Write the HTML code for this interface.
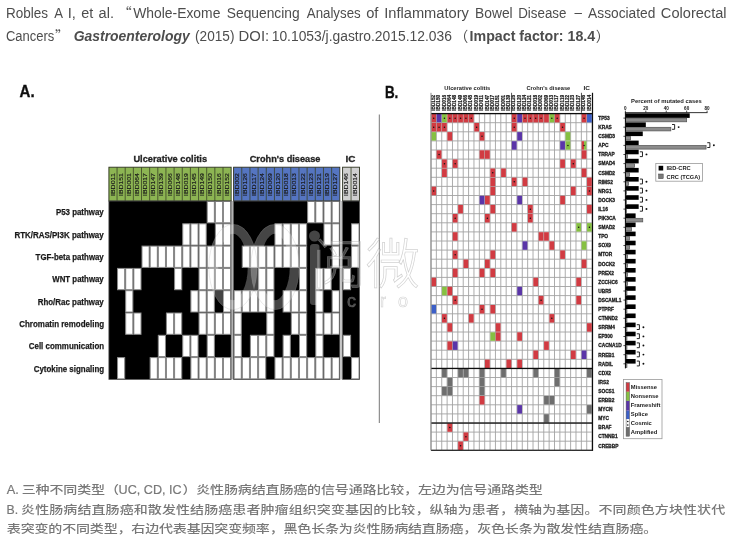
<!DOCTYPE html>
<html><head><meta charset="utf-8"><title>IBD-CRC</title>
<style>
html,body{margin:0;padding:0;background:#fff;}
body{width:730px;height:543px;overflow:hidden;}
svg{display:block;}
text{font-family:"Liberation Sans","Noto Sans CJK SC",sans-serif;}
</style></head><body>
<svg width="730" height="543" viewBox="0 0 730 543">
<defs><filter id="soft" x="0" y="0" width="730" height="543" filterUnits="userSpaceOnUse"><feGaussianBlur stdDeviation="0.45"/></filter></defs>
<rect width="730" height="543" fill="#fff"/>
<text x="6.02" y="18.00" font-size="14" font-weight="normal" font-style="normal" fill="#4d4d4d" textLength="42.12" lengthAdjust="spacingAndGlyphs" >Robles</text>
<text x="54.20" y="18.00" font-size="14" font-weight="normal" font-style="normal" fill="#4d4d4d" textLength="8.76" lengthAdjust="spacingAndGlyphs" >A</text>
<text x="67.68" y="18.00" font-size="14" font-weight="normal" font-style="normal" fill="#4d4d4d" textLength="8.17" lengthAdjust="spacingAndGlyphs" >I,</text>
<text x="81.22" y="18.00" font-size="14" font-weight="normal" font-style="normal" fill="#4d4d4d" textLength="12.03" lengthAdjust="spacingAndGlyphs" >et</text>
<text x="98.62" y="18.00" font-size="14" font-weight="normal" font-style="normal" fill="#4d4d4d" textLength="15.44" lengthAdjust="spacingAndGlyphs" >al.</text>
<text x="117.80" y="18.00" font-size="14" fill="#4d4d4d" style='font-family:"Noto Sans CJK SC", sans-serif'>“</text>
<text x="133.20" y="18.00" font-size="14" font-weight="normal" font-style="normal" fill="#4d4d4d" textLength="87.19" lengthAdjust="spacingAndGlyphs" >Whole-Exome</text>
<text x="226.81" y="18.00" font-size="14" font-weight="normal" font-style="normal" fill="#4d4d4d" textLength="72.84" lengthAdjust="spacingAndGlyphs" >Sequencing</text>
<text x="306.80" y="18.00" font-size="14" font-weight="normal" font-style="normal" fill="#4d4d4d" textLength="53.87" lengthAdjust="spacingAndGlyphs" >Analyses</text>
<text x="366.18" y="18.00" font-size="14" font-weight="normal" font-style="normal" fill="#4d4d4d" textLength="12.26" lengthAdjust="spacingAndGlyphs" >of</text>
<text x="384.18" y="18.00" font-size="14" font-weight="normal" font-style="normal" fill="#4d4d4d" textLength="84.80" lengthAdjust="spacingAndGlyphs" >Inflammatory</text>
<text x="475.10" y="18.00" font-size="14" font-weight="normal" font-style="normal" fill="#4d4d4d" textLength="37.58" lengthAdjust="spacingAndGlyphs" >Bowel</text>
<text x="518.23" y="18.00" font-size="14" font-weight="normal" font-style="normal" fill="#4d4d4d" textLength="48.24" lengthAdjust="spacingAndGlyphs" >Disease</text>
<text x="588.10" y="18.00" font-size="14" font-weight="normal" font-style="normal" fill="#4d4d4d" textLength="67.24" lengthAdjust="spacingAndGlyphs" >Associated</text>
<text x="660.87" y="18.00" font-size="14" font-weight="normal" font-style="normal" fill="#4d4d4d" textLength="65.73" lengthAdjust="spacingAndGlyphs" >Colorectal</text>
<text x="574.40" y="16.70" font-size="14" font-weight="normal" font-style="normal" fill="#4d4d4d" textLength="7.45" lengthAdjust="spacingAndGlyphs" >–</text>
<text x="55.10" y="41.40" font-size="14" fill="#4d4d4d" style='font-family:"Noto Sans CJK SC", sans-serif'>”</text>
<text x="454.20" y="41.40" font-size="14" fill="#4d4d4d" style='font-family:"Noto Sans CJK SC", sans-serif'>（</text>
<text x="595.70" y="41.40" font-size="14" fill="#4d4d4d" style='font-family:"Noto Sans CJK SC", sans-serif'>）</text>
<text x="5.95" y="41.40" font-size="14" font-weight="normal" font-style="normal" fill="#4d4d4d" textLength="48.38" lengthAdjust="spacingAndGlyphs" >Cancers</text>
<text x="73.70" y="41.40" font-size="14" font-weight="bold" font-style="italic" fill="#4d4d4d" textLength="116.06" lengthAdjust="spacingAndGlyphs" >Gastroenterology</text>
<text x="195.08" y="41.40" font-size="14" font-weight="normal" font-style="normal" fill="#4d4d4d" textLength="39.34" lengthAdjust="spacingAndGlyphs" >(2015)</text>
<text x="238.61" y="41.40" font-size="14" font-weight="normal" font-style="normal" fill="#4d4d4d" textLength="30.56" lengthAdjust="spacingAndGlyphs" >DOI:</text>
<text x="271.73" y="41.40" font-size="14" font-weight="normal" font-style="normal" fill="#4d4d4d" textLength="180.16" lengthAdjust="spacingAndGlyphs" >10.1053/j.gastro.2015.12.036</text>
<text x="469.55" y="41.40" font-size="14" font-weight="bold" font-style="normal" fill="#4d4d4d" textLength="125.64" lengthAdjust="spacingAndGlyphs" >Impact factor: 18.4</text>
<g filter="url(#soft)">
<text x="19.60" y="96.90" font-size="16.4" font-weight="bold" font-style="normal" fill="#111" textLength="15.05" lengthAdjust="spacingAndGlyphs" stroke="#111" stroke-width="0.35">A.</text>
<text x="384.89" y="97.50" font-size="16.4" font-weight="bold" font-style="normal" fill="#111" textLength="13.45" lengthAdjust="spacingAndGlyphs" stroke="#111" stroke-width="0.35">B.</text>
<rect x="378.8" y="114.5" width="1" height="308.5" fill="#777"/>
<rect x="108.90" y="167.2" width="122.25" height="33.80" fill="#8db553" stroke="#2e3320" stroke-width="0.9"/>
<line x1="117.05" y1="167.2" x2="117.05" y2="201.0" stroke="#3a4226" stroke-width="0.8"/>
<line x1="125.20" y1="167.2" x2="125.20" y2="201.0" stroke="#3a4226" stroke-width="0.8"/>
<line x1="133.35" y1="167.2" x2="133.35" y2="201.0" stroke="#3a4226" stroke-width="0.8"/>
<line x1="141.50" y1="167.2" x2="141.50" y2="201.0" stroke="#3a4226" stroke-width="0.8"/>
<line x1="149.65" y1="167.2" x2="149.65" y2="201.0" stroke="#3a4226" stroke-width="0.8"/>
<line x1="157.80" y1="167.2" x2="157.80" y2="201.0" stroke="#3a4226" stroke-width="0.8"/>
<line x1="165.95" y1="167.2" x2="165.95" y2="201.0" stroke="#3a4226" stroke-width="0.8"/>
<line x1="174.10" y1="167.2" x2="174.10" y2="201.0" stroke="#3a4226" stroke-width="0.8"/>
<line x1="182.25" y1="167.2" x2="182.25" y2="201.0" stroke="#3a4226" stroke-width="0.8"/>
<line x1="190.40" y1="167.2" x2="190.40" y2="201.0" stroke="#3a4226" stroke-width="0.8"/>
<line x1="198.55" y1="167.2" x2="198.55" y2="201.0" stroke="#3a4226" stroke-width="0.8"/>
<line x1="206.70" y1="167.2" x2="206.70" y2="201.0" stroke="#3a4226" stroke-width="0.8"/>
<line x1="214.85" y1="167.2" x2="214.85" y2="201.0" stroke="#3a4226" stroke-width="0.8"/>
<line x1="223.00" y1="167.2" x2="223.00" y2="201.0" stroke="#3a4226" stroke-width="0.8"/>
<text transform="translate(114.58,196.00) rotate(-90)" x="0" y="0" font-size="4.9" font-weight="normal" fill="#1a1a1a" stroke="#1a1a1a" stroke-width="0.15" textLength="22.8" lengthAdjust="spacingAndGlyphs">IBD011</text>
<text transform="translate(122.72,196.00) rotate(-90)" x="0" y="0" font-size="4.9" font-weight="normal" fill="#1a1a1a" stroke="#1a1a1a" stroke-width="0.15" textLength="22.8" lengthAdjust="spacingAndGlyphs">IBD151</text>
<text transform="translate(130.88,196.00) rotate(-90)" x="0" y="0" font-size="4.9" font-weight="normal" fill="#1a1a1a" stroke="#1a1a1a" stroke-width="0.15" textLength="22.8" lengthAdjust="spacingAndGlyphs">IBD001</text>
<text transform="translate(139.03,196.00) rotate(-90)" x="0" y="0" font-size="4.9" font-weight="normal" fill="#1a1a1a" stroke="#1a1a1a" stroke-width="0.15" textLength="22.8" lengthAdjust="spacingAndGlyphs">IBD064</text>
<text transform="translate(147.18,196.00) rotate(-90)" x="0" y="0" font-size="4.9" font-weight="normal" fill="#1a1a1a" stroke="#1a1a1a" stroke-width="0.15" textLength="22.8" lengthAdjust="spacingAndGlyphs">IBD017</text>
<text transform="translate(155.33,196.00) rotate(-90)" x="0" y="0" font-size="4.9" font-weight="normal" fill="#1a1a1a" stroke="#1a1a1a" stroke-width="0.15" textLength="22.8" lengthAdjust="spacingAndGlyphs">IBD147</text>
<text transform="translate(163.47,196.00) rotate(-90)" x="0" y="0" font-size="4.9" font-weight="normal" fill="#1a1a1a" stroke="#1a1a1a" stroke-width="0.15" textLength="22.8" lengthAdjust="spacingAndGlyphs">IBD139</text>
<text transform="translate(171.62,196.00) rotate(-90)" x="0" y="0" font-size="4.9" font-weight="normal" fill="#1a1a1a" stroke="#1a1a1a" stroke-width="0.15" textLength="22.8" lengthAdjust="spacingAndGlyphs">IBD066</text>
<text transform="translate(179.78,196.00) rotate(-90)" x="0" y="0" font-size="4.9" font-weight="normal" fill="#1a1a1a" stroke="#1a1a1a" stroke-width="0.15" textLength="22.8" lengthAdjust="spacingAndGlyphs">IBD148</text>
<text transform="translate(187.92,196.00) rotate(-90)" x="0" y="0" font-size="4.9" font-weight="normal" fill="#1a1a1a" stroke="#1a1a1a" stroke-width="0.15" textLength="22.8" lengthAdjust="spacingAndGlyphs">IBD019</text>
<text transform="translate(196.08,196.00) rotate(-90)" x="0" y="0" font-size="4.9" font-weight="normal" fill="#1a1a1a" stroke="#1a1a1a" stroke-width="0.15" textLength="22.8" lengthAdjust="spacingAndGlyphs">IBD145</text>
<text transform="translate(204.22,196.00) rotate(-90)" x="0" y="0" font-size="4.9" font-weight="normal" fill="#1a1a1a" stroke="#1a1a1a" stroke-width="0.15" textLength="22.8" lengthAdjust="spacingAndGlyphs">IBD149</text>
<text transform="translate(212.38,196.00) rotate(-90)" x="0" y="0" font-size="4.9" font-weight="normal" fill="#1a1a1a" stroke="#1a1a1a" stroke-width="0.15" textLength="22.8" lengthAdjust="spacingAndGlyphs">IBD150</text>
<text transform="translate(220.53,196.00) rotate(-90)" x="0" y="0" font-size="4.9" font-weight="normal" fill="#1a1a1a" stroke="#1a1a1a" stroke-width="0.15" textLength="22.8" lengthAdjust="spacingAndGlyphs">IBD016</text>
<text transform="translate(228.68,196.00) rotate(-90)" x="0" y="0" font-size="4.9" font-weight="normal" fill="#1a1a1a" stroke="#1a1a1a" stroke-width="0.15" textLength="22.8" lengthAdjust="spacingAndGlyphs">IBD152</text>
<rect x="108.90" y="201.0" width="122.25" height="178.40" fill="#000"/>
<rect x="207.20" y="201.50" width="7.15" height="21.30" fill="#fff" stroke="#8a8a8a" stroke-width="1"/>
<rect x="215.35" y="201.50" width="7.15" height="21.30" fill="#fff" stroke="#8a8a8a" stroke-width="1"/>
<rect x="223.50" y="201.50" width="7.15" height="21.30" fill="#fff" stroke="#8a8a8a" stroke-width="1"/>
<rect x="182.75" y="223.80" width="7.15" height="21.30" fill="#fff" stroke="#8a8a8a" stroke-width="1"/>
<rect x="190.90" y="223.80" width="7.15" height="21.30" fill="#fff" stroke="#8a8a8a" stroke-width="1"/>
<rect x="199.05" y="223.80" width="7.15" height="21.30" fill="#fff" stroke="#8a8a8a" stroke-width="1"/>
<rect x="215.35" y="223.80" width="7.15" height="21.30" fill="#fff" stroke="#8a8a8a" stroke-width="1"/>
<rect x="223.50" y="223.80" width="7.15" height="21.30" fill="#fff" stroke="#8a8a8a" stroke-width="1"/>
<rect x="142.00" y="246.10" width="7.15" height="21.30" fill="#fff" stroke="#8a8a8a" stroke-width="1"/>
<rect x="150.15" y="246.10" width="7.15" height="21.30" fill="#fff" stroke="#8a8a8a" stroke-width="1"/>
<rect x="158.30" y="246.10" width="7.15" height="21.30" fill="#fff" stroke="#8a8a8a" stroke-width="1"/>
<rect x="166.45" y="246.10" width="7.15" height="21.30" fill="#fff" stroke="#8a8a8a" stroke-width="1"/>
<rect x="174.60" y="246.10" width="7.15" height="21.30" fill="#fff" stroke="#8a8a8a" stroke-width="1"/>
<rect x="182.75" y="246.10" width="7.15" height="21.30" fill="#fff" stroke="#8a8a8a" stroke-width="1"/>
<rect x="190.90" y="246.10" width="7.15" height="21.30" fill="#fff" stroke="#8a8a8a" stroke-width="1"/>
<rect x="199.05" y="246.10" width="7.15" height="21.30" fill="#fff" stroke="#8a8a8a" stroke-width="1"/>
<rect x="207.20" y="246.10" width="7.15" height="21.30" fill="#fff" stroke="#8a8a8a" stroke-width="1"/>
<rect x="215.35" y="246.10" width="7.15" height="21.30" fill="#fff" stroke="#8a8a8a" stroke-width="1"/>
<rect x="223.50" y="246.10" width="7.15" height="21.30" fill="#fff" stroke="#8a8a8a" stroke-width="1"/>
<rect x="117.55" y="268.40" width="7.15" height="21.30" fill="#fff" stroke="#8a8a8a" stroke-width="1"/>
<rect x="125.70" y="268.40" width="7.15" height="21.30" fill="#fff" stroke="#8a8a8a" stroke-width="1"/>
<rect x="133.85" y="268.40" width="7.15" height="21.30" fill="#fff" stroke="#8a8a8a" stroke-width="1"/>
<rect x="174.60" y="268.40" width="7.15" height="21.30" fill="#fff" stroke="#8a8a8a" stroke-width="1"/>
<rect x="199.05" y="268.40" width="7.15" height="21.30" fill="#fff" stroke="#8a8a8a" stroke-width="1"/>
<rect x="207.20" y="268.40" width="7.15" height="21.30" fill="#fff" stroke="#8a8a8a" stroke-width="1"/>
<rect x="215.35" y="268.40" width="7.15" height="21.30" fill="#fff" stroke="#8a8a8a" stroke-width="1"/>
<rect x="223.50" y="268.40" width="7.15" height="21.30" fill="#fff" stroke="#8a8a8a" stroke-width="1"/>
<rect x="125.70" y="290.70" width="7.15" height="21.30" fill="#fff" stroke="#8a8a8a" stroke-width="1"/>
<rect x="190.90" y="290.70" width="7.15" height="21.30" fill="#fff" stroke="#8a8a8a" stroke-width="1"/>
<rect x="199.05" y="290.70" width="7.15" height="21.30" fill="#fff" stroke="#8a8a8a" stroke-width="1"/>
<rect x="207.20" y="290.70" width="7.15" height="21.30" fill="#fff" stroke="#8a8a8a" stroke-width="1"/>
<rect x="223.50" y="290.70" width="7.15" height="21.30" fill="#fff" stroke="#8a8a8a" stroke-width="1"/>
<rect x="125.70" y="313.00" width="7.15" height="21.30" fill="#fff" stroke="#8a8a8a" stroke-width="1"/>
<rect x="133.85" y="313.00" width="7.15" height="21.30" fill="#fff" stroke="#8a8a8a" stroke-width="1"/>
<rect x="166.45" y="313.00" width="7.15" height="21.30" fill="#fff" stroke="#8a8a8a" stroke-width="1"/>
<rect x="174.60" y="313.00" width="7.15" height="21.30" fill="#fff" stroke="#8a8a8a" stroke-width="1"/>
<rect x="199.05" y="313.00" width="7.15" height="21.30" fill="#fff" stroke="#8a8a8a" stroke-width="1"/>
<rect x="207.20" y="313.00" width="7.15" height="21.30" fill="#fff" stroke="#8a8a8a" stroke-width="1"/>
<rect x="215.35" y="313.00" width="7.15" height="21.30" fill="#fff" stroke="#8a8a8a" stroke-width="1"/>
<rect x="223.50" y="313.00" width="7.15" height="21.30" fill="#fff" stroke="#8a8a8a" stroke-width="1"/>
<rect x="158.30" y="335.30" width="7.15" height="21.30" fill="#fff" stroke="#8a8a8a" stroke-width="1"/>
<rect x="182.75" y="335.30" width="7.15" height="21.30" fill="#fff" stroke="#8a8a8a" stroke-width="1"/>
<rect x="190.90" y="335.30" width="7.15" height="21.30" fill="#fff" stroke="#8a8a8a" stroke-width="1"/>
<rect x="207.20" y="335.30" width="7.15" height="21.30" fill="#fff" stroke="#8a8a8a" stroke-width="1"/>
<rect x="117.55" y="357.60" width="7.15" height="21.30" fill="#fff" stroke="#8a8a8a" stroke-width="1"/>
<rect x="150.15" y="357.60" width="7.15" height="21.30" fill="#fff" stroke="#8a8a8a" stroke-width="1"/>
<rect x="158.30" y="357.60" width="7.15" height="21.30" fill="#fff" stroke="#8a8a8a" stroke-width="1"/>
<rect x="166.45" y="357.60" width="7.15" height="21.30" fill="#fff" stroke="#8a8a8a" stroke-width="1"/>
<rect x="174.60" y="357.60" width="7.15" height="21.30" fill="#fff" stroke="#8a8a8a" stroke-width="1"/>
<rect x="190.90" y="357.60" width="7.15" height="21.30" fill="#fff" stroke="#8a8a8a" stroke-width="1"/>
<rect x="199.05" y="357.60" width="7.15" height="21.30" fill="#fff" stroke="#8a8a8a" stroke-width="1"/>
<rect x="207.20" y="357.60" width="7.15" height="21.30" fill="#fff" stroke="#8a8a8a" stroke-width="1"/>
<rect x="215.35" y="357.60" width="7.15" height="21.30" fill="#fff" stroke="#8a8a8a" stroke-width="1"/>
<rect x="223.50" y="357.60" width="7.15" height="21.30" fill="#fff" stroke="#8a8a8a" stroke-width="1"/>
<rect x="108.90" y="201.0" width="122.25" height="178.40" fill="none" stroke="#555" stroke-width="0.8"/>
<rect x="233.60" y="167.2" width="106.21" height="33.80" fill="#5474c1" stroke="#2e3320" stroke-width="0.9"/>
<line x1="241.77" y1="167.2" x2="241.77" y2="201.0" stroke="#3a4226" stroke-width="0.8"/>
<line x1="249.94" y1="167.2" x2="249.94" y2="201.0" stroke="#3a4226" stroke-width="0.8"/>
<line x1="258.11" y1="167.2" x2="258.11" y2="201.0" stroke="#3a4226" stroke-width="0.8"/>
<line x1="266.28" y1="167.2" x2="266.28" y2="201.0" stroke="#3a4226" stroke-width="0.8"/>
<line x1="274.45" y1="167.2" x2="274.45" y2="201.0" stroke="#3a4226" stroke-width="0.8"/>
<line x1="282.62" y1="167.2" x2="282.62" y2="201.0" stroke="#3a4226" stroke-width="0.8"/>
<line x1="290.79" y1="167.2" x2="290.79" y2="201.0" stroke="#3a4226" stroke-width="0.8"/>
<line x1="298.96" y1="167.2" x2="298.96" y2="201.0" stroke="#3a4226" stroke-width="0.8"/>
<line x1="307.13" y1="167.2" x2="307.13" y2="201.0" stroke="#3a4226" stroke-width="0.8"/>
<line x1="315.30" y1="167.2" x2="315.30" y2="201.0" stroke="#3a4226" stroke-width="0.8"/>
<line x1="323.47" y1="167.2" x2="323.47" y2="201.0" stroke="#3a4226" stroke-width="0.8"/>
<line x1="331.64" y1="167.2" x2="331.64" y2="201.0" stroke="#3a4226" stroke-width="0.8"/>
<text transform="translate(239.28,196.00) rotate(-90)" x="0" y="0" font-size="4.9" font-weight="normal" fill="#1a1a1a" stroke="#1a1a1a" stroke-width="0.15" textLength="22.8" lengthAdjust="spacingAndGlyphs">IBD002</text>
<text transform="translate(247.45,196.00) rotate(-90)" x="0" y="0" font-size="4.9" font-weight="normal" fill="#1a1a1a" stroke="#1a1a1a" stroke-width="0.15" textLength="22.8" lengthAdjust="spacingAndGlyphs">IBD126</text>
<text transform="translate(255.62,196.00) rotate(-90)" x="0" y="0" font-size="4.9" font-weight="normal" fill="#1a1a1a" stroke="#1a1a1a" stroke-width="0.15" textLength="22.8" lengthAdjust="spacingAndGlyphs">IBD117</text>
<text transform="translate(263.80,196.00) rotate(-90)" x="0" y="0" font-size="4.9" font-weight="normal" fill="#1a1a1a" stroke="#1a1a1a" stroke-width="0.15" textLength="22.8" lengthAdjust="spacingAndGlyphs">IBD124</text>
<text transform="translate(271.97,196.00) rotate(-90)" x="0" y="0" font-size="4.9" font-weight="normal" fill="#1a1a1a" stroke="#1a1a1a" stroke-width="0.15" textLength="22.8" lengthAdjust="spacingAndGlyphs">IBD069</text>
<text transform="translate(280.13,196.00) rotate(-90)" x="0" y="0" font-size="4.9" font-weight="normal" fill="#1a1a1a" stroke="#1a1a1a" stroke-width="0.15" textLength="22.8" lengthAdjust="spacingAndGlyphs">IBD120</text>
<text transform="translate(288.31,196.00) rotate(-90)" x="0" y="0" font-size="4.9" font-weight="normal" fill="#1a1a1a" stroke="#1a1a1a" stroke-width="0.15" textLength="22.8" lengthAdjust="spacingAndGlyphs">IBD018</text>
<text transform="translate(296.48,196.00) rotate(-90)" x="0" y="0" font-size="4.9" font-weight="normal" fill="#1a1a1a" stroke="#1a1a1a" stroke-width="0.15" textLength="22.8" lengthAdjust="spacingAndGlyphs">IBD013</text>
<text transform="translate(304.64,196.00) rotate(-90)" x="0" y="0" font-size="4.9" font-weight="normal" fill="#1a1a1a" stroke="#1a1a1a" stroke-width="0.15" textLength="22.8" lengthAdjust="spacingAndGlyphs">IBD122</text>
<text transform="translate(312.81,196.00) rotate(-90)" x="0" y="0" font-size="4.9" font-weight="normal" fill="#1a1a1a" stroke="#1a1a1a" stroke-width="0.15" textLength="22.8" lengthAdjust="spacingAndGlyphs">IBD123</text>
<text transform="translate(320.99,196.00) rotate(-90)" x="0" y="0" font-size="4.9" font-weight="normal" fill="#1a1a1a" stroke="#1a1a1a" stroke-width="0.15" textLength="22.8" lengthAdjust="spacingAndGlyphs">IBD121</text>
<text transform="translate(329.16,196.00) rotate(-90)" x="0" y="0" font-size="4.9" font-weight="normal" fill="#1a1a1a" stroke="#1a1a1a" stroke-width="0.15" textLength="22.8" lengthAdjust="spacingAndGlyphs">IBD119</text>
<text transform="translate(337.33,196.00) rotate(-90)" x="0" y="0" font-size="4.9" font-weight="normal" fill="#1a1a1a" stroke="#1a1a1a" stroke-width="0.15" textLength="22.8" lengthAdjust="spacingAndGlyphs">IBD127</text>
<rect x="233.60" y="201.0" width="106.21" height="178.40" fill="#000"/>
<rect x="307.63" y="201.50" width="7.17" height="21.30" fill="#fff" stroke="#8a8a8a" stroke-width="1"/>
<rect x="315.80" y="201.50" width="7.17" height="21.30" fill="#fff" stroke="#8a8a8a" stroke-width="1"/>
<rect x="323.97" y="201.50" width="7.17" height="21.30" fill="#fff" stroke="#8a8a8a" stroke-width="1"/>
<rect x="332.14" y="201.50" width="7.17" height="21.30" fill="#fff" stroke="#8a8a8a" stroke-width="1"/>
<rect x="274.95" y="223.80" width="7.17" height="21.30" fill="#fff" stroke="#8a8a8a" stroke-width="1"/>
<rect x="283.12" y="223.80" width="7.17" height="21.30" fill="#fff" stroke="#8a8a8a" stroke-width="1"/>
<rect x="291.29" y="223.80" width="7.17" height="21.30" fill="#fff" stroke="#8a8a8a" stroke-width="1"/>
<rect x="299.46" y="223.80" width="7.17" height="21.30" fill="#fff" stroke="#8a8a8a" stroke-width="1"/>
<rect x="323.97" y="223.80" width="7.17" height="21.30" fill="#fff" stroke="#8a8a8a" stroke-width="1"/>
<rect x="332.14" y="223.80" width="7.17" height="21.30" fill="#fff" stroke="#8a8a8a" stroke-width="1"/>
<rect x="242.27" y="246.10" width="7.17" height="21.30" fill="#fff" stroke="#8a8a8a" stroke-width="1"/>
<rect x="250.44" y="246.10" width="7.17" height="21.30" fill="#fff" stroke="#8a8a8a" stroke-width="1"/>
<rect x="258.61" y="246.10" width="7.17" height="21.30" fill="#fff" stroke="#8a8a8a" stroke-width="1"/>
<rect x="266.78" y="246.10" width="7.17" height="21.30" fill="#fff" stroke="#8a8a8a" stroke-width="1"/>
<rect x="274.95" y="246.10" width="7.17" height="21.30" fill="#fff" stroke="#8a8a8a" stroke-width="1"/>
<rect x="283.12" y="246.10" width="7.17" height="21.30" fill="#fff" stroke="#8a8a8a" stroke-width="1"/>
<rect x="291.29" y="246.10" width="7.17" height="21.30" fill="#fff" stroke="#8a8a8a" stroke-width="1"/>
<rect x="299.46" y="246.10" width="7.17" height="21.30" fill="#fff" stroke="#8a8a8a" stroke-width="1"/>
<rect x="332.14" y="246.10" width="7.17" height="21.30" fill="#fff" stroke="#8a8a8a" stroke-width="1"/>
<rect x="258.61" y="268.40" width="7.17" height="21.30" fill="#fff" stroke="#8a8a8a" stroke-width="1"/>
<rect x="266.78" y="268.40" width="7.17" height="21.30" fill="#fff" stroke="#8a8a8a" stroke-width="1"/>
<rect x="299.46" y="268.40" width="7.17" height="21.30" fill="#fff" stroke="#8a8a8a" stroke-width="1"/>
<rect x="315.80" y="268.40" width="7.17" height="21.30" fill="#fff" stroke="#8a8a8a" stroke-width="1"/>
<rect x="323.97" y="268.40" width="7.17" height="21.30" fill="#fff" stroke="#8a8a8a" stroke-width="1"/>
<rect x="234.10" y="290.70" width="7.17" height="21.30" fill="#fff" stroke="#8a8a8a" stroke-width="1"/>
<rect x="242.27" y="290.70" width="7.17" height="21.30" fill="#fff" stroke="#8a8a8a" stroke-width="1"/>
<rect x="250.44" y="290.70" width="7.17" height="21.30" fill="#fff" stroke="#8a8a8a" stroke-width="1"/>
<rect x="258.61" y="290.70" width="7.17" height="21.30" fill="#fff" stroke="#8a8a8a" stroke-width="1"/>
<rect x="266.78" y="290.70" width="7.17" height="21.30" fill="#fff" stroke="#8a8a8a" stroke-width="1"/>
<rect x="283.12" y="290.70" width="7.17" height="21.30" fill="#fff" stroke="#8a8a8a" stroke-width="1"/>
<rect x="291.29" y="290.70" width="7.17" height="21.30" fill="#fff" stroke="#8a8a8a" stroke-width="1"/>
<rect x="299.46" y="290.70" width="7.17" height="21.30" fill="#fff" stroke="#8a8a8a" stroke-width="1"/>
<rect x="315.80" y="290.70" width="7.17" height="21.30" fill="#fff" stroke="#8a8a8a" stroke-width="1"/>
<rect x="332.14" y="290.70" width="7.17" height="21.30" fill="#fff" stroke="#8a8a8a" stroke-width="1"/>
<rect x="234.10" y="313.00" width="7.17" height="21.30" fill="#fff" stroke="#8a8a8a" stroke-width="1"/>
<rect x="266.78" y="313.00" width="7.17" height="21.30" fill="#fff" stroke="#8a8a8a" stroke-width="1"/>
<rect x="291.29" y="313.00" width="7.17" height="21.30" fill="#fff" stroke="#8a8a8a" stroke-width="1"/>
<rect x="299.46" y="313.00" width="7.17" height="21.30" fill="#fff" stroke="#8a8a8a" stroke-width="1"/>
<rect x="315.80" y="313.00" width="7.17" height="21.30" fill="#fff" stroke="#8a8a8a" stroke-width="1"/>
<rect x="323.97" y="313.00" width="7.17" height="21.30" fill="#fff" stroke="#8a8a8a" stroke-width="1"/>
<rect x="332.14" y="313.00" width="7.17" height="21.30" fill="#fff" stroke="#8a8a8a" stroke-width="1"/>
<rect x="234.10" y="335.30" width="7.17" height="21.30" fill="#fff" stroke="#8a8a8a" stroke-width="1"/>
<rect x="250.44" y="335.30" width="7.17" height="21.30" fill="#fff" stroke="#8a8a8a" stroke-width="1"/>
<rect x="258.61" y="335.30" width="7.17" height="21.30" fill="#fff" stroke="#8a8a8a" stroke-width="1"/>
<rect x="266.78" y="335.30" width="7.17" height="21.30" fill="#fff" stroke="#8a8a8a" stroke-width="1"/>
<rect x="283.12" y="335.30" width="7.17" height="21.30" fill="#fff" stroke="#8a8a8a" stroke-width="1"/>
<rect x="299.46" y="335.30" width="7.17" height="21.30" fill="#fff" stroke="#8a8a8a" stroke-width="1"/>
<rect x="315.80" y="335.30" width="7.17" height="21.30" fill="#fff" stroke="#8a8a8a" stroke-width="1"/>
<rect x="234.10" y="357.60" width="7.17" height="21.30" fill="#fff" stroke="#8a8a8a" stroke-width="1"/>
<rect x="242.27" y="357.60" width="7.17" height="21.30" fill="#fff" stroke="#8a8a8a" stroke-width="1"/>
<rect x="250.44" y="357.60" width="7.17" height="21.30" fill="#fff" stroke="#8a8a8a" stroke-width="1"/>
<rect x="258.61" y="357.60" width="7.17" height="21.30" fill="#fff" stroke="#8a8a8a" stroke-width="1"/>
<rect x="274.95" y="357.60" width="7.17" height="21.30" fill="#fff" stroke="#8a8a8a" stroke-width="1"/>
<rect x="283.12" y="357.60" width="7.17" height="21.30" fill="#fff" stroke="#8a8a8a" stroke-width="1"/>
<rect x="291.29" y="357.60" width="7.17" height="21.30" fill="#fff" stroke="#8a8a8a" stroke-width="1"/>
<rect x="299.46" y="357.60" width="7.17" height="21.30" fill="#fff" stroke="#8a8a8a" stroke-width="1"/>
<rect x="307.63" y="357.60" width="7.17" height="21.30" fill="#fff" stroke="#8a8a8a" stroke-width="1"/>
<rect x="315.80" y="357.60" width="7.17" height="21.30" fill="#fff" stroke="#8a8a8a" stroke-width="1"/>
<rect x="323.97" y="357.60" width="7.17" height="21.30" fill="#fff" stroke="#8a8a8a" stroke-width="1"/>
<rect x="332.14" y="357.60" width="7.17" height="21.30" fill="#fff" stroke="#8a8a8a" stroke-width="1"/>
<rect x="233.60" y="201.0" width="106.21" height="178.40" fill="none" stroke="#555" stroke-width="0.8"/>
<rect x="342.60" y="167.2" width="16.90" height="33.80" fill="#d0d0d0" stroke="#2e3320" stroke-width="0.9"/>
<line x1="351.05" y1="167.2" x2="351.05" y2="201.0" stroke="#3a4226" stroke-width="0.8"/>
<text transform="translate(348.43,196.00) rotate(-90)" x="0" y="0" font-size="4.9" font-weight="normal" fill="#1a1a1a" stroke="#1a1a1a" stroke-width="0.15" textLength="22.8" lengthAdjust="spacingAndGlyphs">IBD146</text>
<text transform="translate(356.88,196.00) rotate(-90)" x="0" y="0" font-size="4.9" font-weight="normal" fill="#1a1a1a" stroke="#1a1a1a" stroke-width="0.15" textLength="22.8" lengthAdjust="spacingAndGlyphs">IBD014</text>
<rect x="342.60" y="201.0" width="16.90" height="178.40" fill="#000"/>
<rect x="351.55" y="223.80" width="7.45" height="21.30" fill="#fff" stroke="#8a8a8a" stroke-width="1"/>
<rect x="351.55" y="246.10" width="7.45" height="21.30" fill="#fff" stroke="#8a8a8a" stroke-width="1"/>
<rect x="343.10" y="268.40" width="7.45" height="21.30" fill="#fff" stroke="#8a8a8a" stroke-width="1"/>
<rect x="343.10" y="335.30" width="7.45" height="21.30" fill="#fff" stroke="#8a8a8a" stroke-width="1"/>
<rect x="351.55" y="357.60" width="7.45" height="21.30" fill="#fff" stroke="#8a8a8a" stroke-width="1"/>
<rect x="342.60" y="201.0" width="16.90" height="178.40" fill="none" stroke="#555" stroke-width="0.8"/>
<rect x="231.85" y="201.0" width="0.9" height="178.40" fill="#9a9a9a"/>
<rect x="340.70" y="201.0" width="0.9" height="178.40" fill="#9a9a9a"/>
<text x="133.44" y="162.00" font-size="9.5" font-weight="bold" font-style="normal" fill="#222" textLength="73.60" lengthAdjust="spacingAndGlyphs" stroke="#222" stroke-width="0.3">Ulcerative colitis</text>
<text x="249.73" y="162.00" font-size="9.5" font-weight="bold" font-style="normal" fill="#222" textLength="70.69" lengthAdjust="spacingAndGlyphs" stroke="#222" stroke-width="0.3">Crohn's disease</text>
<text x="345.41" y="162.00" font-size="9.5" font-weight="bold" font-style="normal" fill="#222" textLength="9.89" lengthAdjust="spacingAndGlyphs" stroke="#222" stroke-width="0.3">IC</text>
<text x="55.93" y="215.30" font-size="9.0" font-weight="bold" font-style="normal" fill="#1a1a1a" textLength="47.83" lengthAdjust="spacingAndGlyphs" stroke="#1a1a1a" stroke-width="0.25">P53 pathway</text>
<text x="14.52" y="237.65" font-size="9.0" font-weight="bold" font-style="normal" fill="#1a1a1a" textLength="89.21" lengthAdjust="spacingAndGlyphs" stroke="#1a1a1a" stroke-width="0.25">RTK/RAS/PI3K pathway</text>
<text x="35.62" y="260.00" font-size="9.0" font-weight="bold" font-style="normal" fill="#1a1a1a" textLength="68.13" lengthAdjust="spacingAndGlyphs" stroke="#1a1a1a" stroke-width="0.25">TGF-beta pathway</text>
<text x="52.30" y="282.35" font-size="9.0" font-weight="bold" font-style="normal" fill="#1a1a1a" textLength="51.44" lengthAdjust="spacingAndGlyphs" stroke="#1a1a1a" stroke-width="0.25">WNT pathway</text>
<text x="37.72" y="304.70" font-size="9.0" font-weight="bold" font-style="normal" fill="#1a1a1a" textLength="66.01" lengthAdjust="spacingAndGlyphs" stroke="#1a1a1a" stroke-width="0.25">Rho/Rac pathway</text>
<text x="19.28" y="327.05" font-size="9.0" font-weight="bold" font-style="normal" fill="#1a1a1a" textLength="84.87" lengthAdjust="spacingAndGlyphs" stroke="#1a1a1a" stroke-width="0.25">Chromatin remodeling</text>
<text x="28.78" y="349.40" font-size="9.0" font-weight="bold" font-style="normal" fill="#1a1a1a" textLength="75.40" lengthAdjust="spacingAndGlyphs" stroke="#1a1a1a" stroke-width="0.25">Cell communication</text>
<text x="33.68" y="371.75" font-size="9.0" font-weight="bold" font-style="normal" fill="#1a1a1a" textLength="70.49" lengthAdjust="spacingAndGlyphs" stroke="#1a1a1a" stroke-width="0.25">Cytokine signaling</text>
<!--PANELB-->
<rect x="431.00" y="113.60" width="161.10" height="336.70" fill="#fff"/>
<text transform="translate(434.80,110.7) rotate(-90)" x="0" y="0" font-size="4.6" font-weight="bold" fill="#222" stroke="#222" stroke-width="0.2" textLength="15.9" lengthAdjust="spacingAndGlyphs">IBD152</text>
<text transform="translate(440.17,110.7) rotate(-90)" x="0" y="0" font-size="4.6" font-weight="bold" fill="#222" stroke="#222" stroke-width="0.2" textLength="15.9" lengthAdjust="spacingAndGlyphs">IBD150</text>
<text transform="translate(445.54,110.7) rotate(-90)" x="0" y="0" font-size="4.6" font-weight="bold" fill="#222" stroke="#222" stroke-width="0.2" textLength="15.9" lengthAdjust="spacingAndGlyphs">IBD016</text>
<text transform="translate(450.91,110.7) rotate(-90)" x="0" y="0" font-size="4.6" font-weight="bold" fill="#222" stroke="#222" stroke-width="0.2" textLength="15.9" lengthAdjust="spacingAndGlyphs">IBD064</text>
<text transform="translate(456.28,110.7) rotate(-90)" x="0" y="0" font-size="4.6" font-weight="bold" fill="#222" stroke="#222" stroke-width="0.2" textLength="15.9" lengthAdjust="spacingAndGlyphs">IBD148</text>
<text transform="translate(461.65,110.7) rotate(-90)" x="0" y="0" font-size="4.6" font-weight="bold" fill="#222" stroke="#222" stroke-width="0.2" textLength="15.9" lengthAdjust="spacingAndGlyphs">IBD149</text>
<text transform="translate(467.02,110.7) rotate(-90)" x="0" y="0" font-size="4.6" font-weight="bold" fill="#222" stroke="#222" stroke-width="0.2" textLength="15.9" lengthAdjust="spacingAndGlyphs">IBD066</text>
<text transform="translate(472.39,110.7) rotate(-90)" x="0" y="0" font-size="4.6" font-weight="bold" fill="#222" stroke="#222" stroke-width="0.2" textLength="15.9" lengthAdjust="spacingAndGlyphs">IBD145</text>
<text transform="translate(477.76,110.7) rotate(-90)" x="0" y="0" font-size="4.6" font-weight="bold" fill="#222" stroke="#222" stroke-width="0.2" textLength="15.9" lengthAdjust="spacingAndGlyphs">IBD019</text>
<text transform="translate(483.13,110.7) rotate(-90)" x="0" y="0" font-size="4.6" font-weight="bold" fill="#222" stroke="#222" stroke-width="0.2" textLength="15.9" lengthAdjust="spacingAndGlyphs">IBD011</text>
<text transform="translate(488.50,110.7) rotate(-90)" x="0" y="0" font-size="4.6" font-weight="bold" fill="#222" stroke="#222" stroke-width="0.2" textLength="15.9" lengthAdjust="spacingAndGlyphs">IBD147</text>
<text transform="translate(493.87,110.7) rotate(-90)" x="0" y="0" font-size="4.6" font-weight="bold" fill="#222" stroke="#222" stroke-width="0.2" textLength="15.9" lengthAdjust="spacingAndGlyphs">IBD017</text>
<text transform="translate(499.24,110.7) rotate(-90)" x="0" y="0" font-size="4.6" font-weight="bold" fill="#222" stroke="#222" stroke-width="0.2" textLength="15.9" lengthAdjust="spacingAndGlyphs">IBD151</text>
<text transform="translate(504.61,110.7) rotate(-90)" x="0" y="0" font-size="4.6" font-weight="bold" fill="#222" stroke="#222" stroke-width="0.2" textLength="15.9" lengthAdjust="spacingAndGlyphs">IBD001</text>
<text transform="translate(509.98,110.7) rotate(-90)" x="0" y="0" font-size="4.6" font-weight="bold" fill="#222" stroke="#222" stroke-width="0.2" textLength="15.9" lengthAdjust="spacingAndGlyphs">IBD139</text>
<text transform="translate(515.35,110.7) rotate(-90)" x="0" y="0" font-size="4.6" font-weight="bold" fill="#222" stroke="#222" stroke-width="0.2" textLength="15.9" lengthAdjust="spacingAndGlyphs">IBD126</text>
<text transform="translate(520.72,110.7) rotate(-90)" x="0" y="0" font-size="4.6" font-weight="bold" fill="#222" stroke="#222" stroke-width="0.2" textLength="15.9" lengthAdjust="spacingAndGlyphs">IBD120</text>
<text transform="translate(526.09,110.7) rotate(-90)" x="0" y="0" font-size="4.6" font-weight="bold" fill="#222" stroke="#222" stroke-width="0.2" textLength="15.9" lengthAdjust="spacingAndGlyphs">IBD124</text>
<text transform="translate(531.46,110.7) rotate(-90)" x="0" y="0" font-size="4.6" font-weight="bold" fill="#222" stroke="#222" stroke-width="0.2" textLength="15.9" lengthAdjust="spacingAndGlyphs">IBD121</text>
<text transform="translate(536.83,110.7) rotate(-90)" x="0" y="0" font-size="4.6" font-weight="bold" fill="#222" stroke="#222" stroke-width="0.2" textLength="15.9" lengthAdjust="spacingAndGlyphs">IBD018</text>
<text transform="translate(542.20,110.7) rotate(-90)" x="0" y="0" font-size="4.6" font-weight="bold" fill="#222" stroke="#222" stroke-width="0.2" textLength="15.9" lengthAdjust="spacingAndGlyphs">IBD002</text>
<text transform="translate(547.57,110.7) rotate(-90)" x="0" y="0" font-size="4.6" font-weight="bold" fill="#222" stroke="#222" stroke-width="0.2" textLength="15.9" lengthAdjust="spacingAndGlyphs">IBD069</text>
<text transform="translate(552.94,110.7) rotate(-90)" x="0" y="0" font-size="4.6" font-weight="bold" fill="#222" stroke="#222" stroke-width="0.2" textLength="15.9" lengthAdjust="spacingAndGlyphs">IBD013</text>
<text transform="translate(558.31,110.7) rotate(-90)" x="0" y="0" font-size="4.6" font-weight="bold" fill="#222" stroke="#222" stroke-width="0.2" textLength="15.9" lengthAdjust="spacingAndGlyphs">IBD117</text>
<text transform="translate(563.68,110.7) rotate(-90)" x="0" y="0" font-size="4.6" font-weight="bold" fill="#222" stroke="#222" stroke-width="0.2" textLength="15.9" lengthAdjust="spacingAndGlyphs">IBD119</text>
<text transform="translate(569.05,110.7) rotate(-90)" x="0" y="0" font-size="4.6" font-weight="bold" fill="#222" stroke="#222" stroke-width="0.2" textLength="15.9" lengthAdjust="spacingAndGlyphs">IBD122</text>
<text transform="translate(574.42,110.7) rotate(-90)" x="0" y="0" font-size="4.6" font-weight="bold" fill="#222" stroke="#222" stroke-width="0.2" textLength="15.9" lengthAdjust="spacingAndGlyphs">IBD123</text>
<text transform="translate(579.79,110.7) rotate(-90)" x="0" y="0" font-size="4.6" font-weight="bold" fill="#222" stroke="#222" stroke-width="0.2" textLength="15.9" lengthAdjust="spacingAndGlyphs">IBD127</text>
<text transform="translate(585.16,110.7) rotate(-90)" x="0" y="0" font-size="4.6" font-weight="bold" fill="#222" stroke="#222" stroke-width="0.2" textLength="15.9" lengthAdjust="spacingAndGlyphs">IBD146</text>
<text transform="translate(590.53,110.7) rotate(-90)" x="0" y="0" font-size="4.6" font-weight="bold" fill="#222" stroke="#222" stroke-width="0.2" textLength="15.9" lengthAdjust="spacingAndGlyphs">IBD014</text>
<line x1="431.00" y1="113.60" x2="431.00" y2="450.30" stroke="#a3a3a3" stroke-width="0.9"/>
<line x1="436.37" y1="113.60" x2="436.37" y2="450.30" stroke="#a3a3a3" stroke-width="0.9"/>
<line x1="441.74" y1="113.60" x2="441.74" y2="450.30" stroke="#a3a3a3" stroke-width="0.9"/>
<line x1="447.11" y1="113.60" x2="447.11" y2="450.30" stroke="#a3a3a3" stroke-width="0.9"/>
<line x1="452.48" y1="113.60" x2="452.48" y2="450.30" stroke="#a3a3a3" stroke-width="0.9"/>
<line x1="457.85" y1="113.60" x2="457.85" y2="450.30" stroke="#a3a3a3" stroke-width="0.9"/>
<line x1="463.22" y1="113.60" x2="463.22" y2="450.30" stroke="#a3a3a3" stroke-width="0.9"/>
<line x1="468.59" y1="113.60" x2="468.59" y2="450.30" stroke="#a3a3a3" stroke-width="0.9"/>
<line x1="473.96" y1="113.60" x2="473.96" y2="450.30" stroke="#a3a3a3" stroke-width="0.9"/>
<line x1="479.33" y1="113.60" x2="479.33" y2="450.30" stroke="#a3a3a3" stroke-width="0.9"/>
<line x1="484.70" y1="113.60" x2="484.70" y2="450.30" stroke="#a3a3a3" stroke-width="0.9"/>
<line x1="490.07" y1="113.60" x2="490.07" y2="450.30" stroke="#a3a3a3" stroke-width="0.9"/>
<line x1="495.44" y1="113.60" x2="495.44" y2="450.30" stroke="#a3a3a3" stroke-width="0.9"/>
<line x1="500.81" y1="113.60" x2="500.81" y2="450.30" stroke="#a3a3a3" stroke-width="0.9"/>
<line x1="506.18" y1="113.60" x2="506.18" y2="450.30" stroke="#a3a3a3" stroke-width="0.9"/>
<line x1="511.55" y1="113.60" x2="511.55" y2="450.30" stroke="#a3a3a3" stroke-width="0.9"/>
<line x1="516.92" y1="113.60" x2="516.92" y2="450.30" stroke="#a3a3a3" stroke-width="0.9"/>
<line x1="522.29" y1="113.60" x2="522.29" y2="450.30" stroke="#a3a3a3" stroke-width="0.9"/>
<line x1="527.66" y1="113.60" x2="527.66" y2="450.30" stroke="#a3a3a3" stroke-width="0.9"/>
<line x1="533.03" y1="113.60" x2="533.03" y2="450.30" stroke="#a3a3a3" stroke-width="0.9"/>
<line x1="538.40" y1="113.60" x2="538.40" y2="450.30" stroke="#a3a3a3" stroke-width="0.9"/>
<line x1="543.77" y1="113.60" x2="543.77" y2="450.30" stroke="#a3a3a3" stroke-width="0.9"/>
<line x1="549.14" y1="113.60" x2="549.14" y2="450.30" stroke="#a3a3a3" stroke-width="0.9"/>
<line x1="554.51" y1="113.60" x2="554.51" y2="450.30" stroke="#a3a3a3" stroke-width="0.9"/>
<line x1="559.88" y1="113.60" x2="559.88" y2="450.30" stroke="#a3a3a3" stroke-width="0.9"/>
<line x1="565.25" y1="113.60" x2="565.25" y2="450.30" stroke="#a3a3a3" stroke-width="0.9"/>
<line x1="570.62" y1="113.60" x2="570.62" y2="450.30" stroke="#a3a3a3" stroke-width="0.9"/>
<line x1="575.99" y1="113.60" x2="575.99" y2="450.30" stroke="#a3a3a3" stroke-width="0.9"/>
<line x1="581.36" y1="113.60" x2="581.36" y2="450.30" stroke="#a3a3a3" stroke-width="0.9"/>
<line x1="586.73" y1="113.60" x2="586.73" y2="450.30" stroke="#a3a3a3" stroke-width="0.9"/>
<line x1="592.10" y1="113.60" x2="592.10" y2="450.30" stroke="#a3a3a3" stroke-width="0.9"/>
<line x1="431.00" y1="113.60" x2="592.10" y2="113.60" stroke="#a3a3a3" stroke-width="0.9"/>
<line x1="431.00" y1="122.70" x2="592.10" y2="122.70" stroke="#a3a3a3" stroke-width="0.9"/>
<line x1="431.00" y1="131.80" x2="592.10" y2="131.80" stroke="#a3a3a3" stroke-width="0.9"/>
<line x1="431.00" y1="140.90" x2="592.10" y2="140.90" stroke="#a3a3a3" stroke-width="0.9"/>
<line x1="431.00" y1="150.00" x2="592.10" y2="150.00" stroke="#a3a3a3" stroke-width="0.9"/>
<line x1="431.00" y1="159.10" x2="592.10" y2="159.10" stroke="#a3a3a3" stroke-width="0.9"/>
<line x1="431.00" y1="168.20" x2="592.10" y2="168.20" stroke="#a3a3a3" stroke-width="0.9"/>
<line x1="431.00" y1="177.30" x2="592.10" y2="177.30" stroke="#a3a3a3" stroke-width="0.9"/>
<line x1="431.00" y1="186.40" x2="592.10" y2="186.40" stroke="#a3a3a3" stroke-width="0.9"/>
<line x1="431.00" y1="195.50" x2="592.10" y2="195.50" stroke="#a3a3a3" stroke-width="0.9"/>
<line x1="431.00" y1="204.60" x2="592.10" y2="204.60" stroke="#a3a3a3" stroke-width="0.9"/>
<line x1="431.00" y1="213.70" x2="592.10" y2="213.70" stroke="#a3a3a3" stroke-width="0.9"/>
<line x1="431.00" y1="222.80" x2="592.10" y2="222.80" stroke="#a3a3a3" stroke-width="0.9"/>
<line x1="431.00" y1="231.90" x2="592.10" y2="231.90" stroke="#a3a3a3" stroke-width="0.9"/>
<line x1="431.00" y1="241.00" x2="592.10" y2="241.00" stroke="#a3a3a3" stroke-width="0.9"/>
<line x1="431.00" y1="250.10" x2="592.10" y2="250.10" stroke="#a3a3a3" stroke-width="0.9"/>
<line x1="431.00" y1="259.20" x2="592.10" y2="259.20" stroke="#a3a3a3" stroke-width="0.9"/>
<line x1="431.00" y1="268.30" x2="592.10" y2="268.30" stroke="#a3a3a3" stroke-width="0.9"/>
<line x1="431.00" y1="277.40" x2="592.10" y2="277.40" stroke="#a3a3a3" stroke-width="0.9"/>
<line x1="431.00" y1="286.50" x2="592.10" y2="286.50" stroke="#a3a3a3" stroke-width="0.9"/>
<line x1="431.00" y1="295.60" x2="592.10" y2="295.60" stroke="#a3a3a3" stroke-width="0.9"/>
<line x1="431.00" y1="304.70" x2="592.10" y2="304.70" stroke="#a3a3a3" stroke-width="0.9"/>
<line x1="431.00" y1="313.80" x2="592.10" y2="313.80" stroke="#a3a3a3" stroke-width="0.9"/>
<line x1="431.00" y1="322.90" x2="592.10" y2="322.90" stroke="#a3a3a3" stroke-width="0.9"/>
<line x1="431.00" y1="332.00" x2="592.10" y2="332.00" stroke="#a3a3a3" stroke-width="0.9"/>
<line x1="431.00" y1="341.10" x2="592.10" y2="341.10" stroke="#a3a3a3" stroke-width="0.9"/>
<line x1="431.00" y1="350.20" x2="592.10" y2="350.20" stroke="#a3a3a3" stroke-width="0.9"/>
<line x1="431.00" y1="359.30" x2="592.10" y2="359.30" stroke="#a3a3a3" stroke-width="0.9"/>
<line x1="431.00" y1="368.40" x2="592.10" y2="368.40" stroke="#a3a3a3" stroke-width="0.9"/>
<line x1="431.00" y1="377.50" x2="592.10" y2="377.50" stroke="#a3a3a3" stroke-width="0.9"/>
<line x1="431.00" y1="386.60" x2="592.10" y2="386.60" stroke="#a3a3a3" stroke-width="0.9"/>
<line x1="431.00" y1="395.70" x2="592.10" y2="395.70" stroke="#a3a3a3" stroke-width="0.9"/>
<line x1="431.00" y1="404.80" x2="592.10" y2="404.80" stroke="#a3a3a3" stroke-width="0.9"/>
<line x1="431.00" y1="413.90" x2="592.10" y2="413.90" stroke="#a3a3a3" stroke-width="0.9"/>
<line x1="431.00" y1="423.00" x2="592.10" y2="423.00" stroke="#a3a3a3" stroke-width="0.9"/>
<line x1="431.00" y1="432.10" x2="592.10" y2="432.10" stroke="#a3a3a3" stroke-width="0.9"/>
<line x1="431.00" y1="441.20" x2="592.10" y2="441.20" stroke="#a3a3a3" stroke-width="0.9"/>
<line x1="431.00" y1="450.30" x2="592.10" y2="450.30" stroke="#a3a3a3" stroke-width="0.9"/>
<rect x="431.30" y="113.90" width="4.77" height="8.50" fill="#d13b43"/>
<circle cx="433.69" cy="118.15" r="0.75" fill="#111"/>
<rect x="436.67" y="113.90" width="4.77" height="8.50" fill="#5a36a8"/>
<rect x="442.04" y="113.90" width="4.77" height="8.50" fill="#86c043"/>
<circle cx="444.43" cy="118.15" r="0.75" fill="#111"/>
<rect x="447.41" y="113.90" width="4.77" height="8.50" fill="#d13b43"/>
<circle cx="449.80" cy="118.15" r="0.75" fill="#111"/>
<rect x="452.78" y="113.90" width="4.77" height="8.50" fill="#d13b43"/>
<circle cx="455.17" cy="118.15" r="0.75" fill="#111"/>
<rect x="458.15" y="113.90" width="4.77" height="8.50" fill="#d13b43"/>
<circle cx="460.54" cy="118.15" r="0.75" fill="#111"/>
<rect x="463.52" y="113.90" width="4.77" height="8.50" fill="#d13b43"/>
<circle cx="465.91" cy="118.15" r="0.75" fill="#111"/>
<rect x="468.89" y="113.90" width="4.77" height="8.50" fill="#d13b43"/>
<circle cx="471.28" cy="118.15" r="0.75" fill="#111"/>
<rect x="511.85" y="113.90" width="4.77" height="8.50" fill="#d13b43"/>
<circle cx="514.24" cy="118.15" r="0.75" fill="#111"/>
<rect x="517.22" y="113.90" width="4.77" height="8.50" fill="#5a36a8"/>
<rect x="522.59" y="113.90" width="4.77" height="8.50" fill="#d13b43"/>
<circle cx="524.97" cy="118.15" r="0.75" fill="#111"/>
<rect x="527.96" y="113.90" width="4.77" height="8.50" fill="#d13b43"/>
<circle cx="530.34" cy="118.15" r="0.75" fill="#111"/>
<rect x="533.33" y="113.90" width="4.77" height="8.50" fill="#d13b43"/>
<circle cx="535.71" cy="118.15" r="0.75" fill="#111"/>
<rect x="538.70" y="113.90" width="4.77" height="8.50" fill="#d13b43"/>
<circle cx="541.08" cy="118.15" r="0.75" fill="#111"/>
<rect x="544.07" y="113.90" width="4.77" height="8.50" fill="#d13b43"/>
<rect x="549.44" y="113.90" width="4.77" height="8.50" fill="#86c043"/>
<circle cx="551.82" cy="118.15" r="0.75" fill="#111"/>
<rect x="554.81" y="113.90" width="4.77" height="8.50" fill="#d13b43"/>
<circle cx="557.19" cy="118.15" r="0.75" fill="#111"/>
<rect x="581.66" y="113.90" width="4.77" height="8.50" fill="#d13b43"/>
<circle cx="584.04" cy="118.15" r="0.75" fill="#111"/>
<rect x="587.03" y="113.90" width="4.77" height="8.50" fill="#3c60c8"/>
<rect x="431.30" y="123.00" width="4.77" height="8.50" fill="#d13b43"/>
<circle cx="433.69" cy="127.25" r="0.75" fill="#111"/>
<rect x="436.67" y="123.00" width="4.77" height="8.50" fill="#d13b43"/>
<circle cx="439.06" cy="127.25" r="0.75" fill="#111"/>
<rect x="442.04" y="123.00" width="4.77" height="8.50" fill="#d13b43"/>
<circle cx="444.43" cy="127.25" r="0.75" fill="#111"/>
<rect x="474.26" y="123.00" width="4.77" height="8.50" fill="#d13b43"/>
<circle cx="476.64" cy="127.25" r="0.75" fill="#111"/>
<rect x="511.85" y="123.00" width="4.77" height="8.50" fill="#d13b43"/>
<circle cx="514.24" cy="127.25" r="0.75" fill="#111"/>
<rect x="560.18" y="123.00" width="4.77" height="8.50" fill="#d13b43"/>
<circle cx="562.56" cy="127.25" r="0.75" fill="#111"/>
<rect x="431.30" y="132.10" width="4.77" height="8.50" fill="#86c043"/>
<rect x="447.41" y="132.10" width="4.77" height="8.50" fill="#d13b43"/>
<rect x="479.63" y="132.10" width="4.77" height="8.50" fill="#d13b43"/>
<circle cx="482.01" cy="136.35" r="0.75" fill="#111"/>
<rect x="517.22" y="132.10" width="4.77" height="8.50" fill="#5a36a8"/>
<rect x="565.55" y="132.10" width="4.77" height="8.50" fill="#86c043"/>
<rect x="511.85" y="141.20" width="4.77" height="8.50" fill="#5a36a8"/>
<rect x="560.18" y="141.20" width="4.77" height="8.50" fill="#5a36a8"/>
<rect x="565.55" y="141.20" width="4.77" height="8.50" fill="#86c043"/>
<circle cx="567.93" cy="145.45" r="0.75" fill="#111"/>
<rect x="581.66" y="141.20" width="2.39" height="8.50" fill="#d13b43"/>
<rect x="584.04" y="141.20" width="2.39" height="8.50" fill="#86c043"/>
<circle cx="584.04" cy="145.45" r="0.75" fill="#111"/>
<rect x="436.67" y="150.30" width="4.77" height="8.50" fill="#d13b43"/>
<circle cx="439.06" cy="154.55" r="0.75" fill="#111"/>
<rect x="479.63" y="150.30" width="4.77" height="8.50" fill="#d13b43"/>
<rect x="485.00" y="150.30" width="4.77" height="8.50" fill="#d13b43"/>
<rect x="581.66" y="150.30" width="4.77" height="8.50" fill="#d13b43"/>
<rect x="442.04" y="159.40" width="4.77" height="8.50" fill="#d13b43"/>
<circle cx="444.43" cy="163.65" r="0.75" fill="#111"/>
<rect x="452.78" y="159.40" width="4.77" height="8.50" fill="#d13b43"/>
<circle cx="455.17" cy="163.65" r="0.75" fill="#111"/>
<rect x="560.18" y="159.40" width="4.77" height="8.50" fill="#d13b43"/>
<rect x="570.92" y="159.40" width="4.77" height="8.50" fill="#d13b43"/>
<circle cx="573.30" cy="163.65" r="0.75" fill="#111"/>
<rect x="442.04" y="168.50" width="4.77" height="8.50" fill="#d13b43"/>
<rect x="490.37" y="168.50" width="4.77" height="8.50" fill="#d13b43"/>
<circle cx="492.75" cy="172.75" r="0.75" fill="#111"/>
<rect x="501.11" y="168.50" width="4.77" height="8.50" fill="#d13b43"/>
<rect x="581.66" y="168.50" width="4.77" height="8.50" fill="#d13b43"/>
<rect x="490.37" y="177.60" width="4.77" height="8.50" fill="#d13b43"/>
<rect x="511.85" y="177.60" width="4.77" height="8.50" fill="#d13b43"/>
<circle cx="514.24" cy="181.85" r="0.75" fill="#111"/>
<rect x="522.59" y="177.60" width="4.77" height="8.50" fill="#d13b43"/>
<rect x="587.03" y="177.60" width="4.77" height="8.50" fill="#d13b43"/>
<rect x="431.30" y="186.70" width="4.77" height="8.50" fill="#d13b43"/>
<circle cx="433.69" cy="190.95" r="0.75" fill="#111"/>
<rect x="490.37" y="186.70" width="4.77" height="8.50" fill="#d13b43"/>
<rect x="570.92" y="186.70" width="4.77" height="8.50" fill="#d13b43"/>
<rect x="587.03" y="186.70" width="4.77" height="8.50" fill="#d13b43"/>
<circle cx="589.41" cy="190.95" r="0.75" fill="#111"/>
<rect x="479.63" y="195.80" width="4.77" height="8.50" fill="#5a36a8"/>
<rect x="485.00" y="195.80" width="4.77" height="8.50" fill="#d13b43"/>
<rect x="517.22" y="195.80" width="4.77" height="8.50" fill="#5a36a8"/>
<rect x="560.18" y="195.80" width="4.77" height="8.50" fill="#d13b43"/>
<rect x="458.15" y="204.90" width="4.77" height="8.50" fill="#d13b43"/>
<rect x="490.37" y="204.90" width="4.77" height="8.50" fill="#d13b43"/>
<rect x="527.96" y="204.90" width="4.77" height="8.50" fill="#d13b43"/>
<circle cx="530.34" cy="209.15" r="0.75" fill="#111"/>
<rect x="587.03" y="204.90" width="4.77" height="8.50" fill="#d13b43"/>
<rect x="452.78" y="214.00" width="4.77" height="8.50" fill="#d13b43"/>
<circle cx="455.17" cy="218.25" r="0.75" fill="#111"/>
<rect x="485.00" y="214.00" width="4.77" height="8.50" fill="#d13b43"/>
<circle cx="487.38" cy="218.25" r="0.75" fill="#111"/>
<rect x="527.96" y="214.00" width="4.77" height="8.50" fill="#d13b43"/>
<circle cx="530.34" cy="218.25" r="0.75" fill="#111"/>
<rect x="511.85" y="223.10" width="4.77" height="8.50" fill="#d13b43"/>
<rect x="576.29" y="223.10" width="4.77" height="8.50" fill="#86c043"/>
<circle cx="578.67" cy="227.35" r="0.75" fill="#111"/>
<rect x="587.03" y="223.10" width="4.77" height="8.50" fill="#86c043"/>
<circle cx="589.41" cy="227.35" r="0.75" fill="#111"/>
<rect x="452.78" y="232.20" width="4.77" height="8.50" fill="#d13b43"/>
<rect x="538.70" y="232.20" width="4.77" height="8.50" fill="#d13b43"/>
<rect x="544.07" y="232.20" width="4.77" height="8.50" fill="#d13b43"/>
<rect x="522.59" y="241.30" width="4.77" height="8.50" fill="#5a36a8"/>
<rect x="549.44" y="241.30" width="4.77" height="8.50" fill="#d13b43"/>
<rect x="581.66" y="241.30" width="4.77" height="8.50" fill="#86c043"/>
<rect x="452.78" y="250.40" width="4.77" height="8.50" fill="#d13b43"/>
<circle cx="455.17" cy="254.65" r="0.75" fill="#111"/>
<rect x="490.37" y="250.40" width="4.77" height="8.50" fill="#d13b43"/>
<rect x="560.18" y="250.40" width="4.77" height="8.50" fill="#d13b43"/>
<rect x="463.52" y="259.50" width="4.77" height="8.50" fill="#d13b43"/>
<rect x="485.00" y="259.50" width="4.77" height="8.50" fill="#d13b43"/>
<rect x="581.66" y="259.50" width="4.77" height="8.50" fill="#d13b43"/>
<rect x="452.78" y="268.60" width="4.77" height="8.50" fill="#d13b43"/>
<rect x="479.63" y="268.60" width="4.77" height="8.50" fill="#d13b43"/>
<rect x="490.37" y="268.60" width="4.77" height="8.50" fill="#d13b43"/>
<rect x="431.30" y="277.70" width="4.77" height="8.50" fill="#d13b43"/>
<rect x="533.33" y="277.70" width="4.77" height="8.50" fill="#d13b43"/>
<rect x="576.29" y="277.70" width="4.77" height="8.50" fill="#d13b43"/>
<rect x="442.04" y="286.80" width="4.77" height="8.50" fill="#86c043"/>
<rect x="447.41" y="286.80" width="4.77" height="8.50" fill="#d13b43"/>
<rect x="517.22" y="286.80" width="4.77" height="8.50" fill="#5a36a8"/>
<rect x="452.78" y="295.90" width="4.77" height="8.50" fill="#d13b43"/>
<circle cx="455.17" cy="300.15" r="0.75" fill="#111"/>
<rect x="538.70" y="295.90" width="4.77" height="8.50" fill="#d13b43"/>
<circle cx="541.08" cy="300.15" r="0.75" fill="#111"/>
<rect x="576.29" y="295.90" width="4.77" height="8.50" fill="#d13b43"/>
<rect x="431.30" y="305.00" width="4.77" height="8.50" fill="#3c60c8"/>
<rect x="479.63" y="305.00" width="4.77" height="8.50" fill="#d13b43"/>
<circle cx="482.01" cy="309.25" r="0.75" fill="#111"/>
<rect x="490.37" y="305.00" width="4.77" height="8.50" fill="#d13b43"/>
<rect x="442.04" y="314.10" width="4.77" height="8.50" fill="#d13b43"/>
<circle cx="444.43" cy="318.35" r="0.75" fill="#111"/>
<rect x="468.89" y="314.10" width="4.77" height="8.50" fill="#d13b43"/>
<rect x="549.44" y="314.10" width="4.77" height="8.50" fill="#d13b43"/>
<circle cx="551.82" cy="318.35" r="0.75" fill="#111"/>
<rect x="447.41" y="323.20" width="4.77" height="8.50" fill="#d13b43"/>
<rect x="495.74" y="323.20" width="4.77" height="8.50" fill="#d13b43"/>
<rect x="587.03" y="323.20" width="4.77" height="8.50" fill="#d13b43"/>
<rect x="490.37" y="332.30" width="4.77" height="8.50" fill="#86c043"/>
<rect x="495.74" y="332.30" width="4.77" height="8.50" fill="#d13b43"/>
<rect x="517.22" y="332.30" width="4.77" height="8.50" fill="#d13b43"/>
<rect x="447.41" y="341.40" width="4.77" height="8.50" fill="#d13b43"/>
<rect x="452.78" y="341.40" width="4.77" height="8.50" fill="#5a36a8"/>
<rect x="544.07" y="341.40" width="4.77" height="8.50" fill="#d13b43"/>
<rect x="533.33" y="350.50" width="4.77" height="8.50" fill="#d13b43"/>
<rect x="570.92" y="350.50" width="4.77" height="8.50" fill="#d13b43"/>
<rect x="581.66" y="350.50" width="4.77" height="8.50" fill="#5a36a8"/>
<rect x="485.00" y="359.60" width="4.77" height="8.50" fill="#d13b43"/>
<rect x="506.48" y="359.60" width="4.77" height="8.50" fill="#d13b43"/>
<rect x="517.22" y="359.60" width="4.77" height="8.50" fill="#d13b43"/>
<rect x="442.04" y="368.70" width="4.77" height="8.50" fill="#6e6e6e"/>
<rect x="458.15" y="368.70" width="4.77" height="8.50" fill="#6e6e6e"/>
<rect x="463.52" y="368.70" width="4.77" height="8.50" fill="#6e6e6e"/>
<rect x="479.63" y="368.70" width="4.77" height="8.50" fill="#6e6e6e"/>
<rect x="501.11" y="368.70" width="4.77" height="8.50" fill="#6e6e6e"/>
<rect x="533.33" y="368.70" width="4.77" height="8.50" fill="#6e6e6e"/>
<rect x="554.81" y="368.70" width="4.77" height="8.50" fill="#6e6e6e"/>
<rect x="587.03" y="368.70" width="4.77" height="8.50" fill="#6e6e6e"/>
<rect x="447.41" y="377.80" width="4.77" height="8.50" fill="#6e6e6e"/>
<rect x="479.63" y="377.80" width="4.77" height="8.50" fill="#6e6e6e"/>
<rect x="554.81" y="377.80" width="4.77" height="8.50" fill="#6e6e6e"/>
<rect x="442.04" y="386.90" width="4.77" height="8.50" fill="#6e6e6e"/>
<rect x="447.41" y="386.90" width="4.77" height="8.50" fill="#6e6e6e"/>
<rect x="479.63" y="386.90" width="4.77" height="8.50" fill="#6e6e6e"/>
<rect x="479.63" y="396.00" width="4.77" height="8.50" fill="#d13b43"/>
<rect x="544.07" y="396.00" width="4.77" height="8.50" fill="#6e6e6e"/>
<rect x="549.44" y="396.00" width="4.77" height="8.50" fill="#6e6e6e"/>
<rect x="517.22" y="405.10" width="4.77" height="8.50" fill="#5a36a8"/>
<rect x="587.03" y="405.10" width="4.77" height="8.50" fill="#6e6e6e"/>
<rect x="544.07" y="414.20" width="4.77" height="8.50" fill="#6e6e6e"/>
<rect x="447.41" y="423.30" width="4.77" height="8.50" fill="#d13b43"/>
<circle cx="449.80" cy="427.55" r="0.75" fill="#111"/>
<rect x="463.52" y="432.40" width="4.77" height="8.50" fill="#d13b43"/>
<circle cx="465.91" cy="436.65" r="0.75" fill="#111"/>
<rect x="458.15" y="441.50" width="4.77" height="8.50" fill="#d13b43"/>
<circle cx="460.54" cy="445.75" r="0.75" fill="#111"/>
<rect x="431.00" y="112.95" width="161.70" height="1.3" fill="#111"/>
<rect x="431.00" y="367.80" width="161.10" height="1.3" fill="#111"/>
<rect x="431.00" y="422.40" width="161.10" height="1.3" fill="#111"/>
<rect x="431.00" y="449.70" width="161.70" height="1.2" fill="#222"/>
<rect x="591.90" y="92.8" width="1.2" height="358.10" fill="#111"/>
<rect x="430.50" y="92.8" width="1" height="357.50" fill="#8a8a8a"/>
<rect x="511.15" y="92.8" width="0.9" height="20" fill="#444"/>
<rect x="580.96" y="92.8" width="0.9" height="20" fill="#444"/>
<text x="444.35" y="90.40" font-size="5.8" font-weight="bold" font-style="normal" fill="#222" textLength="45.96" lengthAdjust="spacingAndGlyphs" >Ulcerative colitis</text>
<text x="526.47" y="90.40" font-size="5.8" font-weight="bold" font-style="normal" fill="#222" textLength="43.83" lengthAdjust="spacingAndGlyphs" >Crohn's disease</text>
<text x="583.41" y="90.40" font-size="5.8" font-weight="bold" font-style="normal" fill="#222" textLength="6.48" lengthAdjust="spacingAndGlyphs" >IC</text>
<text x="598.2" y="119.95" font-size="5.6" font-weight="bold" fill="#1a1a1a" stroke="#1a1a1a" stroke-width="0.3" textLength="11.51" lengthAdjust="spacingAndGlyphs">TP53</text>
<text x="598.2" y="129.05" font-size="5.6" font-weight="bold" fill="#1a1a1a" stroke="#1a1a1a" stroke-width="0.3" textLength="13.65" lengthAdjust="spacingAndGlyphs">KRAS</text>
<text x="598.2" y="138.15" font-size="5.6" font-weight="bold" fill="#1a1a1a" stroke="#1a1a1a" stroke-width="0.3" textLength="16.86" lengthAdjust="spacingAndGlyphs">CSMD3</text>
<text x="598.2" y="147.25" font-size="5.6" font-weight="bold" fill="#1a1a1a" stroke="#1a1a1a" stroke-width="0.3" textLength="10.17" lengthAdjust="spacingAndGlyphs">APC</text>
<text x="598.2" y="156.35" font-size="5.6" font-weight="bold" fill="#1a1a1a" stroke="#1a1a1a" stroke-width="0.3" textLength="16.59" lengthAdjust="spacingAndGlyphs">TRRAP</text>
<text x="598.2" y="165.45" font-size="5.6" font-weight="bold" fill="#1a1a1a" stroke="#1a1a1a" stroke-width="0.3" textLength="16.86" lengthAdjust="spacingAndGlyphs">SMAD4</text>
<text x="598.2" y="174.55" font-size="5.6" font-weight="bold" fill="#1a1a1a" stroke="#1a1a1a" stroke-width="0.3" textLength="16.86" lengthAdjust="spacingAndGlyphs">CSMD2</text>
<text x="598.2" y="183.65" font-size="5.6" font-weight="bold" fill="#1a1a1a" stroke="#1a1a1a" stroke-width="0.3" textLength="14.72" lengthAdjust="spacingAndGlyphs">RIMS2</text>
<text x="598.2" y="192.75" font-size="5.6" font-weight="bold" fill="#1a1a1a" stroke="#1a1a1a" stroke-width="0.3" textLength="13.38" lengthAdjust="spacingAndGlyphs">NRG1</text>
<text x="598.2" y="201.85" font-size="5.6" font-weight="bold" fill="#1a1a1a" stroke="#1a1a1a" stroke-width="0.3" textLength="16.86" lengthAdjust="spacingAndGlyphs">DOCK3</text>
<text x="598.2" y="210.95" font-size="5.6" font-weight="bold" fill="#1a1a1a" stroke="#1a1a1a" stroke-width="0.3" textLength="9.64" lengthAdjust="spacingAndGlyphs">IL16</text>
<text x="598.2" y="220.05" font-size="5.6" font-weight="bold" fill="#1a1a1a" stroke="#1a1a1a" stroke-width="0.3" textLength="17.66" lengthAdjust="spacingAndGlyphs">PIK3CA</text>
<text x="598.2" y="229.15" font-size="5.6" font-weight="bold" fill="#1a1a1a" stroke="#1a1a1a" stroke-width="0.3" textLength="16.86" lengthAdjust="spacingAndGlyphs">SMAD2</text>
<text x="598.2" y="238.25" font-size="5.6" font-weight="bold" fill="#1a1a1a" stroke="#1a1a1a" stroke-width="0.3" textLength="9.90" lengthAdjust="spacingAndGlyphs">TPO</text>
<text x="598.2" y="247.35" font-size="5.6" font-weight="bold" fill="#1a1a1a" stroke="#1a1a1a" stroke-width="0.3" textLength="12.85" lengthAdjust="spacingAndGlyphs">SOX9</text>
<text x="598.2" y="256.45" font-size="5.6" font-weight="bold" fill="#1a1a1a" stroke="#1a1a1a" stroke-width="0.3" textLength="14.09" lengthAdjust="spacingAndGlyphs">MTOR</text>
<text x="598.2" y="265.55" font-size="5.6" font-weight="bold" fill="#1a1a1a" stroke="#1a1a1a" stroke-width="0.3" textLength="16.86" lengthAdjust="spacingAndGlyphs">DOCK2</text>
<text x="598.2" y="274.65" font-size="5.6" font-weight="bold" fill="#1a1a1a" stroke="#1a1a1a" stroke-width="0.3" textLength="15.79" lengthAdjust="spacingAndGlyphs">PREX2</text>
<text x="598.2" y="283.75" font-size="5.6" font-weight="bold" fill="#1a1a1a" stroke="#1a1a1a" stroke-width="0.3" textLength="19.53" lengthAdjust="spacingAndGlyphs">ZCCHC6</text>
<text x="598.2" y="292.85" font-size="5.6" font-weight="bold" fill="#1a1a1a" stroke="#1a1a1a" stroke-width="0.3" textLength="13.11" lengthAdjust="spacingAndGlyphs">UBR5</text>
<text x="598.2" y="301.95" font-size="5.6" font-weight="bold" fill="#1a1a1a" stroke="#1a1a1a" stroke-width="0.3" textLength="23.28" lengthAdjust="spacingAndGlyphs">DSCAML1</text>
<text x="598.2" y="311.05" font-size="5.6" font-weight="bold" fill="#1a1a1a" stroke="#1a1a1a" stroke-width="0.3" textLength="15.79" lengthAdjust="spacingAndGlyphs">PTPRF</text>
<text x="598.2" y="320.15" font-size="5.6" font-weight="bold" fill="#1a1a1a" stroke="#1a1a1a" stroke-width="0.3" textLength="19.53" lengthAdjust="spacingAndGlyphs">CTNND2</text>
<text x="598.2" y="329.25" font-size="5.6" font-weight="bold" fill="#1a1a1a" stroke="#1a1a1a" stroke-width="0.3" textLength="16.86" lengthAdjust="spacingAndGlyphs">SRRM4</text>
<text x="598.2" y="338.35" font-size="5.6" font-weight="bold" fill="#1a1a1a" stroke="#1a1a1a" stroke-width="0.3" textLength="14.46" lengthAdjust="spacingAndGlyphs">EP300</text>
<text x="598.2" y="347.45" font-size="5.6" font-weight="bold" fill="#1a1a1a" stroke="#1a1a1a" stroke-width="0.3" textLength="23.55" lengthAdjust="spacingAndGlyphs">CACNA1D</text>
<text x="598.2" y="356.55" font-size="5.6" font-weight="bold" fill="#1a1a1a" stroke="#1a1a1a" stroke-width="0.3" textLength="16.32" lengthAdjust="spacingAndGlyphs">RREB1</text>
<text x="598.2" y="365.65" font-size="5.6" font-weight="bold" fill="#1a1a1a" stroke="#1a1a1a" stroke-width="0.3" textLength="14.71" lengthAdjust="spacingAndGlyphs">RADIL</text>
<text x="598.2" y="374.75" font-size="5.6" font-weight="bold" fill="#1a1a1a" stroke="#1a1a1a" stroke-width="0.3" textLength="12.85" lengthAdjust="spacingAndGlyphs">CDX2</text>
<text x="598.2" y="383.85" font-size="5.6" font-weight="bold" fill="#1a1a1a" stroke="#1a1a1a" stroke-width="0.3" textLength="10.71" lengthAdjust="spacingAndGlyphs">IRS2</text>
<text x="598.2" y="392.95" font-size="5.6" font-weight="bold" fill="#1a1a1a" stroke="#1a1a1a" stroke-width="0.3" textLength="16.33" lengthAdjust="spacingAndGlyphs">SOCS1</text>
<text x="598.2" y="402.05" font-size="5.6" font-weight="bold" fill="#1a1a1a" stroke="#1a1a1a" stroke-width="0.3" textLength="16.32" lengthAdjust="spacingAndGlyphs">ERBB2</text>
<text x="598.2" y="411.15" font-size="5.6" font-weight="bold" fill="#1a1a1a" stroke="#1a1a1a" stroke-width="0.3" textLength="14.18" lengthAdjust="spacingAndGlyphs">MYCN</text>
<text x="598.2" y="420.25" font-size="5.6" font-weight="bold" fill="#1a1a1a" stroke="#1a1a1a" stroke-width="0.3" textLength="10.70" lengthAdjust="spacingAndGlyphs">MYC</text>
<text x="598.2" y="429.35" font-size="5.6" font-weight="bold" fill="#1a1a1a" stroke="#1a1a1a" stroke-width="0.3" textLength="13.38" lengthAdjust="spacingAndGlyphs">BRAF</text>
<text x="598.2" y="438.45" font-size="5.6" font-weight="bold" fill="#1a1a1a" stroke="#1a1a1a" stroke-width="0.3" textLength="19.53" lengthAdjust="spacingAndGlyphs">CTNNB1</text>
<text x="598.2" y="447.55" font-size="5.6" font-weight="bold" fill="#1a1a1a" stroke="#1a1a1a" stroke-width="0.3" textLength="20.34" lengthAdjust="spacingAndGlyphs">CREBBP</text>
<rect x="625.40" y="113.30" width="64.32" height="4.6" fill="#000"/>
<rect x="625.40" y="118.20" width="61.26" height="3.6" fill="#8c8c8c" stroke="#505050" stroke-width="0.7"/>
<line x1="623.40" y1="118.10" x2="625.40" y2="118.10" stroke="#000" stroke-width="0.7"/>
<rect x="625.40" y="122.40" width="20.42" height="4.6" fill="#000"/>
<rect x="625.40" y="127.30" width="45.43" height="3.6" fill="#8c8c8c" stroke="#505050" stroke-width="0.7"/>
<line x1="623.40" y1="127.20" x2="625.40" y2="127.20" stroke="#000" stroke-width="0.7"/>
<path d="M672.03 124.50 H674.63 V129.30 H672.03" fill="none" stroke="#111" stroke-width="0.9"/>
<circle cx="678.63" cy="127.10" r="0.95" fill="#111"/>
<rect x="625.40" y="131.50" width="17.36" height="4.6" fill="#000"/>
<rect x="625.40" y="136.40" width="5.10" height="3.6" fill="#8c8c8c" stroke="#505050" stroke-width="0.7"/>
<line x1="623.40" y1="136.30" x2="625.40" y2="136.30" stroke="#000" stroke-width="0.7"/>
<rect x="625.40" y="140.60" width="13.27" height="4.6" fill="#000"/>
<rect x="625.40" y="145.50" width="80.66" height="3.6" fill="#8c8c8c" stroke="#505050" stroke-width="0.7"/>
<line x1="623.40" y1="145.40" x2="625.40" y2="145.40" stroke="#000" stroke-width="0.7"/>
<path d="M707.26 142.70 H709.86 V147.50 H707.26" fill="none" stroke="#111" stroke-width="0.9"/>
<circle cx="713.86" cy="145.30" r="0.95" fill="#111"/>
<rect x="625.40" y="149.70" width="13.27" height="4.6" fill="#000"/>
<rect x="625.40" y="154.60" width="2.04" height="3.6" fill="#8c8c8c" stroke="#505050" stroke-width="0.7"/>
<line x1="623.40" y1="154.50" x2="625.40" y2="154.50" stroke="#000" stroke-width="0.7"/>
<path d="M639.87 151.80 H642.47 V156.60 H639.87" fill="none" stroke="#111" stroke-width="0.9"/>
<circle cx="646.47" cy="154.40" r="0.95" fill="#111"/>
<rect x="625.40" y="158.80" width="13.27" height="4.6" fill="#000"/>
<rect x="625.40" y="163.70" width="9.19" height="3.6" fill="#8c8c8c" stroke="#505050" stroke-width="0.7"/>
<line x1="623.40" y1="163.60" x2="625.40" y2="163.60" stroke="#000" stroke-width="0.7"/>
<rect x="625.40" y="167.90" width="13.27" height="4.6" fill="#000"/>
<rect x="625.40" y="172.80" width="4.08" height="3.6" fill="#8c8c8c" stroke="#505050" stroke-width="0.7"/>
<line x1="623.40" y1="172.70" x2="625.40" y2="172.70" stroke="#000" stroke-width="0.7"/>
<rect x="625.40" y="177.00" width="13.27" height="4.6" fill="#000"/>
<rect x="625.40" y="181.90" width="3.06" height="3.6" fill="#8c8c8c" stroke="#505050" stroke-width="0.7"/>
<line x1="623.40" y1="181.80" x2="625.40" y2="181.80" stroke="#000" stroke-width="0.7"/>
<path d="M639.87 179.10 H642.47 V183.90 H639.87" fill="none" stroke="#111" stroke-width="0.9"/>
<circle cx="646.47" cy="181.70" r="0.95" fill="#111"/>
<rect x="625.40" y="186.10" width="13.27" height="4.6" fill="#000"/>
<rect x="625.40" y="191.00" width="1.02" height="3.6" fill="#8c8c8c" stroke="#505050" stroke-width="0.7"/>
<line x1="623.40" y1="190.90" x2="625.40" y2="190.90" stroke="#000" stroke-width="0.7"/>
<path d="M639.87 188.20 H642.47 V193.00 H639.87" fill="none" stroke="#111" stroke-width="0.9"/>
<circle cx="646.47" cy="190.80" r="0.95" fill="#111"/>
<rect x="625.40" y="195.20" width="13.27" height="4.6" fill="#000"/>
<rect x="625.40" y="200.10" width="1.02" height="3.6" fill="#8c8c8c" stroke="#505050" stroke-width="0.7"/>
<line x1="623.40" y1="200.00" x2="625.40" y2="200.00" stroke="#000" stroke-width="0.7"/>
<path d="M639.87 197.30 H642.47 V202.10 H639.87" fill="none" stroke="#111" stroke-width="0.9"/>
<circle cx="646.47" cy="199.90" r="0.95" fill="#111"/>
<rect x="625.40" y="204.30" width="13.27" height="4.6" fill="#000"/>
<rect x="625.40" y="209.20" width="1.02" height="3.6" fill="#8c8c8c" stroke="#505050" stroke-width="0.7"/>
<line x1="623.40" y1="209.10" x2="625.40" y2="209.10" stroke="#000" stroke-width="0.7"/>
<path d="M639.87 206.40 H642.47 V211.20 H639.87" fill="none" stroke="#111" stroke-width="0.9"/>
<circle cx="646.47" cy="209.00" r="0.95" fill="#111"/>
<rect x="625.40" y="213.40" width="10.21" height="4.6" fill="#000"/>
<rect x="625.40" y="218.30" width="17.36" height="3.6" fill="#8c8c8c" stroke="#505050" stroke-width="0.7"/>
<line x1="623.40" y1="218.20" x2="625.40" y2="218.20" stroke="#000" stroke-width="0.7"/>
<rect x="625.40" y="222.50" width="10.21" height="4.6" fill="#000"/>
<rect x="625.40" y="227.40" width="6.13" height="3.6" fill="#8c8c8c" stroke="#505050" stroke-width="0.7"/>
<line x1="623.40" y1="227.30" x2="625.40" y2="227.30" stroke="#000" stroke-width="0.7"/>
<rect x="625.40" y="231.60" width="10.21" height="4.6" fill="#000"/>
<rect x="625.40" y="236.50" width="4.08" height="3.6" fill="#8c8c8c" stroke="#505050" stroke-width="0.7"/>
<line x1="623.40" y1="236.40" x2="625.40" y2="236.40" stroke="#000" stroke-width="0.7"/>
<rect x="625.40" y="240.70" width="10.21" height="4.6" fill="#000"/>
<rect x="625.40" y="245.60" width="4.08" height="3.6" fill="#8c8c8c" stroke="#505050" stroke-width="0.7"/>
<line x1="623.40" y1="245.50" x2="625.40" y2="245.50" stroke="#000" stroke-width="0.7"/>
<rect x="625.40" y="249.80" width="10.21" height="4.6" fill="#000"/>
<rect x="625.40" y="254.70" width="2.04" height="3.6" fill="#8c8c8c" stroke="#505050" stroke-width="0.7"/>
<line x1="623.40" y1="254.60" x2="625.40" y2="254.60" stroke="#000" stroke-width="0.7"/>
<rect x="625.40" y="258.90" width="10.21" height="4.6" fill="#000"/>
<rect x="625.40" y="263.80" width="2.04" height="3.6" fill="#8c8c8c" stroke="#505050" stroke-width="0.7"/>
<line x1="623.40" y1="263.70" x2="625.40" y2="263.70" stroke="#000" stroke-width="0.7"/>
<rect x="625.40" y="268.00" width="10.21" height="4.6" fill="#000"/>
<rect x="625.40" y="272.90" width="2.04" height="3.6" fill="#8c8c8c" stroke="#505050" stroke-width="0.7"/>
<line x1="623.40" y1="272.80" x2="625.40" y2="272.80" stroke="#000" stroke-width="0.7"/>
<rect x="625.40" y="277.10" width="10.21" height="4.6" fill="#000"/>
<rect x="625.40" y="282.00" width="2.04" height="3.6" fill="#8c8c8c" stroke="#505050" stroke-width="0.7"/>
<line x1="623.40" y1="281.90" x2="625.40" y2="281.90" stroke="#000" stroke-width="0.7"/>
<rect x="625.40" y="286.20" width="10.21" height="4.6" fill="#000"/>
<rect x="625.40" y="291.10" width="1.53" height="3.6" fill="#8c8c8c" stroke="#505050" stroke-width="0.7"/>
<line x1="623.40" y1="291.00" x2="625.40" y2="291.00" stroke="#000" stroke-width="0.7"/>
<rect x="625.40" y="295.30" width="10.21" height="4.6" fill="#000"/>
<rect x="625.40" y="300.20" width="1.53" height="3.6" fill="#8c8c8c" stroke="#505050" stroke-width="0.7"/>
<line x1="623.40" y1="300.10" x2="625.40" y2="300.10" stroke="#000" stroke-width="0.7"/>
<rect x="625.40" y="304.40" width="10.21" height="4.6" fill="#000"/>
<rect x="625.40" y="309.30" width="1.53" height="3.6" fill="#8c8c8c" stroke="#505050" stroke-width="0.7"/>
<line x1="623.40" y1="309.20" x2="625.40" y2="309.20" stroke="#000" stroke-width="0.7"/>
<rect x="625.40" y="313.50" width="10.21" height="4.6" fill="#000"/>
<rect x="625.40" y="318.40" width="1.53" height="3.6" fill="#8c8c8c" stroke="#505050" stroke-width="0.7"/>
<line x1="623.40" y1="318.30" x2="625.40" y2="318.30" stroke="#000" stroke-width="0.7"/>
<rect x="625.40" y="322.60" width="10.21" height="4.6" fill="#000"/>
<rect x="625.40" y="327.50" width="1.53" height="3.6" fill="#8c8c8c" stroke="#505050" stroke-width="0.7"/>
<line x1="623.40" y1="327.40" x2="625.40" y2="327.40" stroke="#000" stroke-width="0.7"/>
<path d="M636.81 324.70 H639.41 V329.50 H636.81" fill="none" stroke="#111" stroke-width="0.9"/>
<circle cx="643.41" cy="327.30" r="0.95" fill="#111"/>
<rect x="625.40" y="331.70" width="10.21" height="4.6" fill="#000"/>
<rect x="625.40" y="336.60" width="1.53" height="3.6" fill="#8c8c8c" stroke="#505050" stroke-width="0.7"/>
<line x1="623.40" y1="336.50" x2="625.40" y2="336.50" stroke="#000" stroke-width="0.7"/>
<path d="M636.81 333.80 H639.41 V338.60 H636.81" fill="none" stroke="#111" stroke-width="0.9"/>
<circle cx="643.41" cy="336.40" r="0.95" fill="#111"/>
<rect x="625.40" y="340.80" width="10.21" height="4.6" fill="#000"/>
<rect x="625.40" y="345.70" width="1.53" height="3.6" fill="#8c8c8c" stroke="#505050" stroke-width="0.7"/>
<line x1="623.40" y1="345.60" x2="625.40" y2="345.60" stroke="#000" stroke-width="0.7"/>
<path d="M636.81 342.90 H639.41 V347.70 H636.81" fill="none" stroke="#111" stroke-width="0.9"/>
<circle cx="643.41" cy="345.50" r="0.95" fill="#111"/>
<rect x="625.40" y="349.90" width="10.21" height="4.6" fill="#000"/>
<rect x="625.40" y="354.80" width="1.53" height="3.6" fill="#8c8c8c" stroke="#505050" stroke-width="0.7"/>
<line x1="623.40" y1="354.70" x2="625.40" y2="354.70" stroke="#000" stroke-width="0.7"/>
<path d="M636.81 352.00 H639.41 V356.80 H636.81" fill="none" stroke="#111" stroke-width="0.9"/>
<circle cx="643.41" cy="354.60" r="0.95" fill="#111"/>
<rect x="625.40" y="359.00" width="10.21" height="4.6" fill="#000"/>
<rect x="625.40" y="363.90" width="1.53" height="3.6" fill="#8c8c8c" stroke="#505050" stroke-width="0.7"/>
<line x1="623.40" y1="363.80" x2="625.40" y2="363.80" stroke="#000" stroke-width="0.7"/>
<path d="M636.81 361.10 H639.41 V365.90 H636.81" fill="none" stroke="#111" stroke-width="0.9"/>
<circle cx="643.41" cy="363.70" r="0.95" fill="#111"/>
<rect x="624.90" y="112.5" width="0.9" height="255.90" fill="#000"/>
<rect x="624.90" y="112.3" width="82.58" height="0.8" fill="#000"/>
<line x1="625.40" y1="110.6" x2="625.40" y2="112.5" stroke="#000" stroke-width="0.7"/>
<text x="625.40" y="109.6" font-size="4.6" font-weight="bold" fill="#111" text-anchor="middle">0</text>
<line x1="645.82" y1="110.6" x2="645.82" y2="112.5" stroke="#000" stroke-width="0.7"/>
<text x="645.82" y="109.6" font-size="4.6" font-weight="bold" fill="#111" text-anchor="middle">20</text>
<line x1="666.24" y1="110.6" x2="666.24" y2="112.5" stroke="#000" stroke-width="0.7"/>
<text x="666.24" y="109.6" font-size="4.6" font-weight="bold" fill="#111" text-anchor="middle">40</text>
<line x1="686.66" y1="110.6" x2="686.66" y2="112.5" stroke="#000" stroke-width="0.7"/>
<text x="686.66" y="109.6" font-size="4.6" font-weight="bold" fill="#111" text-anchor="middle">60</text>
<line x1="707.08" y1="110.6" x2="707.08" y2="112.5" stroke="#000" stroke-width="0.7"/>
<text x="707.08" y="109.6" font-size="4.6" font-weight="bold" fill="#111" text-anchor="middle">80</text>
<text x="631.05" y="102.50" font-size="5.8" font-weight="bold" font-style="normal" fill="#222" textLength="70.75" lengthAdjust="spacingAndGlyphs" >Percent of mutated cases</text>
<rect x="655.8" y="163.4" width="46.6" height="17.8" fill="#fff" stroke="#999" stroke-width="0.8"/>
<rect x="658.6" y="165.8" width="4.6" height="4.7" fill="#000"/>
<rect x="658.6" y="174.0" width="4.6" height="4.7" fill="#7a7a7a" stroke="#444" stroke-width="0.5"/>
<text x="666.46" y="170.30" font-size="5.8" font-weight="bold" font-style="normal" fill="#1a1a1a" textLength="24.23" lengthAdjust="spacingAndGlyphs" >IBD-CRC</text>
<text x="666.57" y="178.60" font-size="5.8" font-weight="bold" font-style="normal" fill="#1a1a1a" textLength="33.67" lengthAdjust="spacingAndGlyphs" >CRC (TCGA)</text>
<rect x="623.4" y="379.4" width="38.6" height="59.3" fill="#fff" stroke="#999" stroke-width="0.8"/>
<rect x="626.1" y="382.7" width="3.4" height="9.10" fill="#d13b43"/>
<rect x="626.1" y="391.8" width="3.4" height="9.10" fill="#86c043"/>
<rect x="626.1" y="400.9" width="3.4" height="9.80" fill="#5a36a8"/>
<rect x="626.1" y="410.7" width="3.4" height="8.50" fill="#3c60c8"/>
<rect x="626.1" y="419.2" width="3.4" height="7.90" fill="#fff"/>
<rect x="626.1" y="427.1" width="3.4" height="9.10" fill="#6e6e6e"/>
<rect x="626.1" y="382.7" width="3.4" height="53.5" fill="none" stroke="#555" stroke-width="0.5"/>
<circle cx="627.8" cy="421.5" r="0.8" fill="#111"/><circle cx="627.8" cy="425.0" r="0.8" fill="#111"/>
<text x="630.8" y="389.30" font-size="5.8" font-weight="bold" fill="#1a1a1a">Missense</text>
<text x="630.8" y="398.10" font-size="5.8" font-weight="bold" fill="#1a1a1a">Nonsense</text>
<text x="630.8" y="407.10" font-size="5.8" font-weight="bold" fill="#1a1a1a">Frameshift</text>
<text x="630.8" y="416.30" font-size="5.8" font-weight="bold" fill="#1a1a1a">Splice</text>
<text x="630.8" y="425.10" font-size="5.8" font-weight="bold" fill="#1a1a1a">Cosmic</text>
<text x="630.8" y="434.10" font-size="5.8" font-weight="bold" fill="#1a1a1a">Amplified</text>
<g opacity="1">
<ellipse cx="233" cy="267" rx="19.5" ry="38" fill="none" stroke="#fff" stroke-opacity="0.27" stroke-width="9.5"/>
<ellipse cx="275" cy="267" rx="19.5" ry="38" fill="none" stroke="#fff" stroke-opacity="0.27" stroke-width="9.5"/>
<ellipse cx="233" cy="267" rx="24.2" ry="42.7" fill="none" stroke="#9a9a9a" stroke-opacity="0.35" stroke-width="0.6"/>
<ellipse cx="275" cy="267" rx="24.2" ry="42.7" fill="none" stroke="#9a9a9a" stroke-opacity="0.35" stroke-width="0.6"/>
<circle cx="314.5" cy="236" r="5.5" fill="#fff" fill-opacity="0.27"/>
<rect x="310" y="244" width="9.5" height="61" rx="3" fill="#fff" fill-opacity="0.27"/>
<text x="312" y="284" font-size="54" fill="#fff" fill-opacity="0.27" stroke="#999" stroke-opacity="0.45" stroke-width="0.7" style='font-family:"Noto Sans CJK SC",sans-serif;font-weight:300'>阅微</text>
<text x="347" y="307" font-size="18" fill="#fff" fill-opacity="0.27" stroke="#999" stroke-opacity="0.45" stroke-width="0.6" style='font-family:"Liberation Sans",sans-serif'>c</text>
<text x="380" y="307" font-size="18" fill="#fff" fill-opacity="0.27" stroke="#999" stroke-opacity="0.45" stroke-width="0.6" style='font-family:"Liberation Sans",sans-serif'>r</text>
<text x="398" y="307" font-size="18" fill="#fff" fill-opacity="0.27" stroke="#999" stroke-opacity="0.45" stroke-width="0.6" style='font-family:"Liberation Sans",sans-serif'>o</text>
</g>
</g>
<text x="6.80" y="494.30" font-size="13" font-weight="normal" font-style="normal" fill="#787878" textLength="12.09" lengthAdjust="spacingAndGlyphs" stroke="#787878" stroke-width="0.2">A.</text>
<text transform="translate(21.76,494.30) scale(1,0.82)" x="0" y="0" font-size="14" fill="#787878" style='font-family:"Noto Sans CJK SC",sans-serif;font-weight:500;letter-spacing:-0.140px'>三种不同类型（</text>
<text x="118.62" y="494.30" font-size="13" font-weight="normal" font-style="normal" fill="#787878" textLength="62.99" lengthAdjust="spacingAndGlyphs" stroke="#787878" stroke-width="0.2">UC, CD, IC</text>
<text transform="translate(182.40,494.30) scale(1,0.82)" x="0" y="0" font-size="14" fill="#787878" style='font-family:"Noto Sans CJK SC",sans-serif;font-weight:500;letter-spacing:-0.140px'>）炎性肠病结直肠癌的信号通路比较，左边为信号通路类型</text>
<text x="6.52" y="513.70" font-size="13" font-weight="normal" font-style="normal" fill="#787878" textLength="11.63" lengthAdjust="spacingAndGlyphs" stroke="#787878" stroke-width="0.2">B.</text>
<text transform="translate(21.06,513.70) scale(1,0.82)" x="0" y="0" font-size="14" fill="#787878" style='font-family:"Noto Sans CJK SC",sans-serif;font-weight:500;letter-spacing:0.090px'>炎性肠病结直肠癌和散发性结肠癌患者肿瘤组织突变基因的比较，纵轴为患者，横轴为基因。不同颜色方块性状代</text>
<text transform="translate(6.84,533.10) scale(1,0.82)" x="0" y="0" font-size="14" fill="#787878" style='font-family:"Noto Sans CJK SC",sans-serif;font-weight:500;letter-spacing:-0.160px'>表突变的不同类型，右边代表基因突变频率，黑色长条为炎性肠病结直肠癌，灰色长条为散发性结直肠癌。</text>
</svg>
</body></html>
